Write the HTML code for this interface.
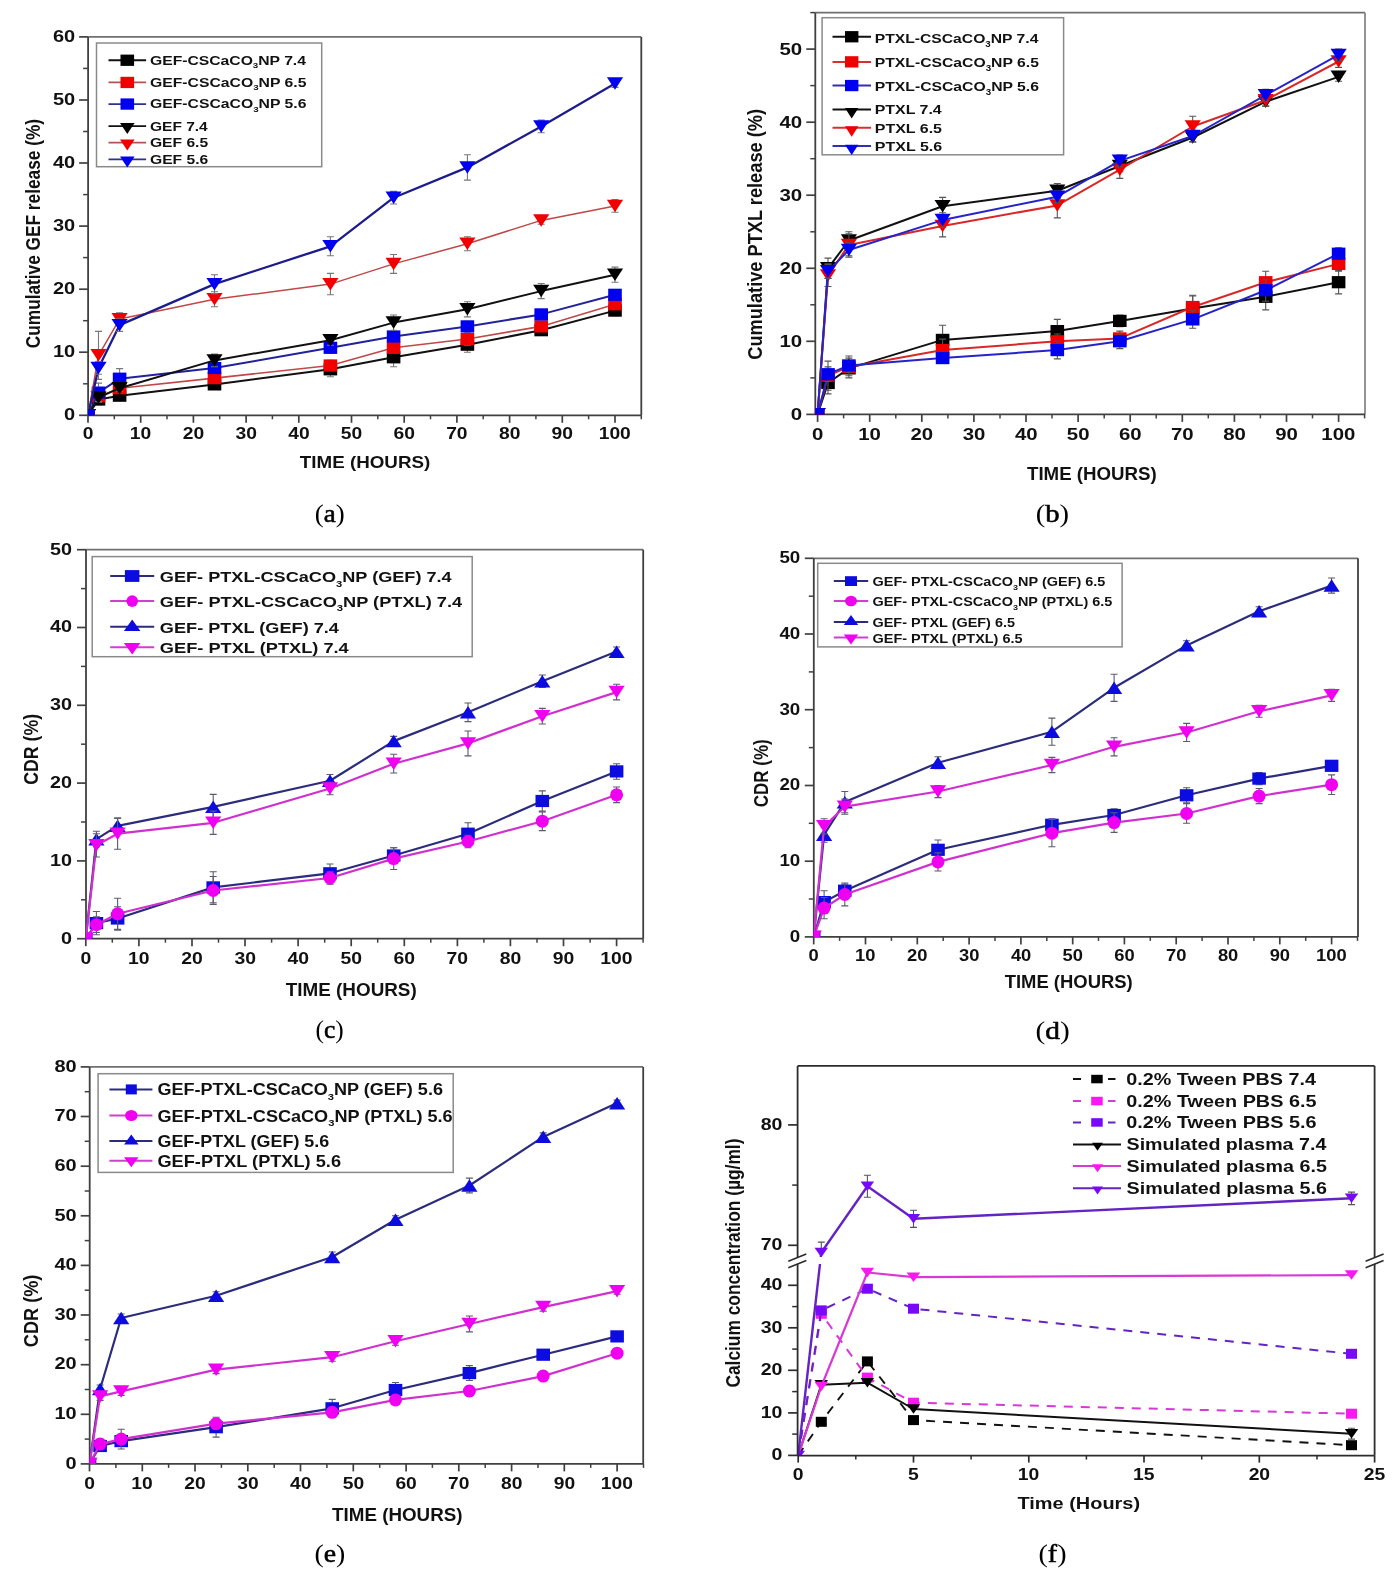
<!DOCTYPE html>
<html><head><meta charset="utf-8"><style>
html,body{margin:0;padding:0;background:#fff;}
svg{display:block;filter:blur(0.5px);}
</style></head><body>
<svg width="1398" height="1584" viewBox="0 0 1398 1584">
<rect width="1398" height="1584" fill="#fff"/>
<line x1="88.1" y1="36.9" x2="641.3" y2="36.9" stroke="#707070" stroke-width="1.8"/>
<line x1="641.3" y1="36.9" x2="641.3" y2="415.3" stroke="#404040" stroke-width="1.8"/>
<line x1="88.1" y1="36.9" x2="88.1" y2="415.3" stroke="#404040" stroke-width="1.8"/>
<line x1="88.1" y1="415.3" x2="641.3" y2="415.3" stroke="#404040" stroke-width="1.8"/>
<line x1="79.1" y1="415.3" x2="88.1" y2="415.3" stroke="#404040" stroke-width="1.7"/>
<text transform="translate(64.00,420.28) scale(1.1900,1)" font-size="16.80" font-weight="bold" font-family="Liberation Sans, sans-serif" fill="#111">0</text>
<line x1="79.1" y1="352.2" x2="88.1" y2="352.2" stroke="#404040" stroke-width="1.7"/>
<text transform="translate(52.89,357.21) scale(1.1900,1)" font-size="16.80" font-weight="bold" font-family="Liberation Sans, sans-serif" fill="#111">10</text>
<line x1="79.1" y1="289.2" x2="88.1" y2="289.2" stroke="#404040" stroke-width="1.7"/>
<text transform="translate(52.89,294.15) scale(1.1900,1)" font-size="16.80" font-weight="bold" font-family="Liberation Sans, sans-serif" fill="#111">20</text>
<line x1="79.1" y1="226.1" x2="88.1" y2="226.1" stroke="#404040" stroke-width="1.7"/>
<text transform="translate(52.89,231.07) scale(1.1900,1)" font-size="16.80" font-weight="bold" font-family="Liberation Sans, sans-serif" fill="#111">30</text>
<line x1="79.1" y1="163.0" x2="88.1" y2="163.0" stroke="#404040" stroke-width="1.7"/>
<text transform="translate(52.89,168.01) scale(1.1900,1)" font-size="16.80" font-weight="bold" font-family="Liberation Sans, sans-serif" fill="#111">40</text>
<line x1="79.1" y1="100.0" x2="88.1" y2="100.0" stroke="#404040" stroke-width="1.7"/>
<text transform="translate(52.89,104.95) scale(1.1900,1)" font-size="16.80" font-weight="bold" font-family="Liberation Sans, sans-serif" fill="#111">50</text>
<line x1="79.1" y1="36.9" x2="88.1" y2="36.9" stroke="#404040" stroke-width="1.7"/>
<text transform="translate(52.89,41.88) scale(1.1900,1)" font-size="16.80" font-weight="bold" font-family="Liberation Sans, sans-serif" fill="#111">60</text>
<line x1="83.1" y1="383.8" x2="88.1" y2="383.8" stroke="#404040" stroke-width="1.5"/>
<line x1="83.1" y1="320.7" x2="88.1" y2="320.7" stroke="#404040" stroke-width="1.5"/>
<line x1="83.1" y1="257.6" x2="88.1" y2="257.6" stroke="#404040" stroke-width="1.5"/>
<line x1="83.1" y1="194.6" x2="88.1" y2="194.6" stroke="#404040" stroke-width="1.5"/>
<line x1="83.1" y1="131.5" x2="88.1" y2="131.5" stroke="#404040" stroke-width="1.5"/>
<line x1="83.1" y1="68.4" x2="88.1" y2="68.4" stroke="#404040" stroke-width="1.5"/>
<line x1="88.0" y1="415.3" x2="88.0" y2="422.8" stroke="#404040" stroke-width="1.7"/>
<text transform="translate(82.65,439.42) scale(1.1200,1)" font-size="17.20" font-weight="bold" font-family="Liberation Sans, sans-serif" fill="#111">0</text>
<line x1="140.7" y1="415.3" x2="140.7" y2="422.8" stroke="#404040" stroke-width="1.7"/>
<text transform="translate(129.77,439.42) scale(1.1200,1)" font-size="17.20" font-weight="bold" font-family="Liberation Sans, sans-serif" fill="#111">10</text>
<line x1="193.4" y1="415.3" x2="193.4" y2="422.8" stroke="#404040" stroke-width="1.7"/>
<text transform="translate(182.74,439.42) scale(1.1200,1)" font-size="17.20" font-weight="bold" font-family="Liberation Sans, sans-serif" fill="#111">20</text>
<line x1="246.1" y1="415.3" x2="246.1" y2="422.8" stroke="#404040" stroke-width="1.7"/>
<text transform="translate(235.55,439.41) scale(1.1200,1)" font-size="17.20" font-weight="bold" font-family="Liberation Sans, sans-serif" fill="#111">30</text>
<line x1="298.8" y1="415.3" x2="298.8" y2="422.8" stroke="#404040" stroke-width="1.7"/>
<text transform="translate(288.32,439.42) scale(1.1200,1)" font-size="17.20" font-weight="bold" font-family="Liberation Sans, sans-serif" fill="#111">40</text>
<line x1="351.5" y1="415.3" x2="351.5" y2="422.8" stroke="#404040" stroke-width="1.7"/>
<text transform="translate(340.86,439.42) scale(1.1200,1)" font-size="17.20" font-weight="bold" font-family="Liberation Sans, sans-serif" fill="#111">50</text>
<line x1="404.2" y1="415.3" x2="404.2" y2="422.8" stroke="#404040" stroke-width="1.7"/>
<text transform="translate(393.50,439.42) scale(1.1200,1)" font-size="17.20" font-weight="bold" font-family="Liberation Sans, sans-serif" fill="#111">60</text>
<line x1="456.9" y1="415.3" x2="456.9" y2="422.8" stroke="#404040" stroke-width="1.7"/>
<text transform="translate(446.13,439.42) scale(1.1200,1)" font-size="17.20" font-weight="bold" font-family="Liberation Sans, sans-serif" fill="#111">70</text>
<line x1="509.6" y1="415.3" x2="509.6" y2="422.8" stroke="#404040" stroke-width="1.7"/>
<text transform="translate(498.94,439.42) scale(1.1200,1)" font-size="17.20" font-weight="bold" font-family="Liberation Sans, sans-serif" fill="#111">80</text>
<line x1="562.3" y1="415.3" x2="562.3" y2="422.8" stroke="#404040" stroke-width="1.7"/>
<text transform="translate(551.60,439.42) scale(1.1200,1)" font-size="17.20" font-weight="bold" font-family="Liberation Sans, sans-serif" fill="#111">90</text>
<line x1="615.0" y1="415.3" x2="615.0" y2="422.8" stroke="#404040" stroke-width="1.7"/>
<text transform="translate(598.67,439.42) scale(1.1200,1)" font-size="17.20" font-weight="bold" font-family="Liberation Sans, sans-serif" fill="#111">100</text>
<line x1="114.3" y1="415.3" x2="114.3" y2="419.3" stroke="#404040" stroke-width="1.5"/>
<line x1="167.0" y1="415.3" x2="167.0" y2="419.3" stroke="#404040" stroke-width="1.5"/>
<line x1="219.7" y1="415.3" x2="219.7" y2="419.3" stroke="#404040" stroke-width="1.5"/>
<line x1="272.4" y1="415.3" x2="272.4" y2="419.3" stroke="#404040" stroke-width="1.5"/>
<line x1="325.1" y1="415.3" x2="325.1" y2="419.3" stroke="#404040" stroke-width="1.5"/>
<line x1="377.8" y1="415.3" x2="377.8" y2="419.3" stroke="#404040" stroke-width="1.5"/>
<line x1="430.5" y1="415.3" x2="430.5" y2="419.3" stroke="#404040" stroke-width="1.5"/>
<line x1="483.2" y1="415.3" x2="483.2" y2="419.3" stroke="#404040" stroke-width="1.5"/>
<line x1="535.9" y1="415.3" x2="535.9" y2="419.3" stroke="#404040" stroke-width="1.5"/>
<line x1="588.6" y1="415.3" x2="588.6" y2="419.3" stroke="#404040" stroke-width="1.5"/>
<line x1="641.3" y1="415.3" x2="641.3" y2="419.3" stroke="#404040" stroke-width="1.5"/>
<text transform="translate(39.60,348.21) rotate(-90) scale(1.0158,1.1765)" font-size="17.00" font-weight="bold" font-family="Liberation Sans, sans-serif" fill="#111">Cumulative GEF release (%)</text>
<text transform="translate(299.79,468.10) scale(1.1150,1.0000)" font-size="16.86" font-weight="bold" font-family="Liberation Sans, sans-serif" fill="#111">TIME (HOURS)</text>
<text transform="translate(314.82,521.80) scale(1.0763,1)" font-size="25.00" font-family="Liberation Serif, serif" fill="#000">(<tspan stroke="#000" stroke-width="0.55">a</tspan>)</text>
<clipPath id="clip1"><rect x="88.1" y="36.9" width="553.2" height="378.4"/></clipPath>
<g clip-path="url(#clip1)">
<polyline points="88.0,415.3 98.5,399.5 119.6,395.7 214.5,384.4 330.4,369.3 393.6,357.3 467.4,344.7 541.2,330.2 615.0,310.6" fill="none" stroke="#111" stroke-width="2.0" stroke-linejoin="round"/>
<rect x="81.2" y="409.2" width="13.6" height="12.2" fill="#000000"/>
<line x1="98.5" y1="394.5" x2="98.5" y2="404.6" stroke="#777" stroke-width="1.1"/>
<line x1="95.0" y1="394.5" x2="102.0" y2="394.5" stroke="#777" stroke-width="1.1"/>
<line x1="95.0" y1="404.6" x2="102.0" y2="404.6" stroke="#777" stroke-width="1.1"/>
<rect x="91.7" y="393.4" width="13.6" height="12.2" fill="#000000"/>
<line x1="119.6" y1="392.0" x2="119.6" y2="399.5" stroke="#777" stroke-width="1.1"/>
<line x1="116.1" y1="392.0" x2="123.1" y2="392.0" stroke="#777" stroke-width="1.1"/>
<line x1="116.1" y1="399.5" x2="123.1" y2="399.5" stroke="#777" stroke-width="1.1"/>
<rect x="112.8" y="389.6" width="13.6" height="12.2" fill="#000000"/>
<line x1="214.5" y1="381.2" x2="214.5" y2="387.6" stroke="#777" stroke-width="1.1"/>
<line x1="211.0" y1="381.2" x2="218.0" y2="381.2" stroke="#777" stroke-width="1.1"/>
<line x1="211.0" y1="387.6" x2="218.0" y2="387.6" stroke="#777" stroke-width="1.1"/>
<rect x="207.7" y="378.3" width="13.6" height="12.2" fill="#000000"/>
<line x1="330.4" y1="361.7" x2="330.4" y2="376.8" stroke="#777" stroke-width="1.1"/>
<line x1="326.9" y1="361.7" x2="333.9" y2="361.7" stroke="#777" stroke-width="1.1"/>
<line x1="326.9" y1="376.8" x2="333.9" y2="376.8" stroke="#777" stroke-width="1.1"/>
<rect x="323.6" y="363.2" width="13.6" height="12.2" fill="#000000"/>
<line x1="393.6" y1="347.8" x2="393.6" y2="366.7" stroke="#777" stroke-width="1.1"/>
<line x1="390.1" y1="347.8" x2="397.1" y2="347.8" stroke="#777" stroke-width="1.1"/>
<line x1="390.1" y1="366.7" x2="397.1" y2="366.7" stroke="#777" stroke-width="1.1"/>
<rect x="386.8" y="351.2" width="13.6" height="12.2" fill="#000000"/>
<line x1="467.4" y1="337.1" x2="467.4" y2="352.2" stroke="#777" stroke-width="1.1"/>
<line x1="463.9" y1="337.1" x2="470.9" y2="337.1" stroke="#777" stroke-width="1.1"/>
<line x1="463.9" y1="352.2" x2="470.9" y2="352.2" stroke="#777" stroke-width="1.1"/>
<rect x="460.6" y="338.6" width="13.6" height="12.2" fill="#000000"/>
<line x1="541.2" y1="325.1" x2="541.2" y2="335.2" stroke="#777" stroke-width="1.1"/>
<line x1="537.7" y1="325.1" x2="544.7" y2="325.1" stroke="#777" stroke-width="1.1"/>
<line x1="537.7" y1="335.2" x2="544.7" y2="335.2" stroke="#777" stroke-width="1.1"/>
<rect x="534.4" y="324.1" width="13.6" height="12.2" fill="#000000"/>
<line x1="615.0" y1="305.6" x2="615.0" y2="315.7" stroke="#777" stroke-width="1.1"/>
<line x1="611.5" y1="305.6" x2="618.5" y2="305.6" stroke="#777" stroke-width="1.1"/>
<line x1="611.5" y1="315.7" x2="618.5" y2="315.7" stroke="#777" stroke-width="1.1"/>
<rect x="608.2" y="304.5" width="13.6" height="12.2" fill="#000000"/>
<polyline points="88.0,415.3 98.5,396.4 119.6,388.2 214.5,378.1 330.4,365.5 393.6,347.8 467.4,339.0 541.2,326.4 615.0,304.3" fill="none" stroke="#c04848" stroke-width="1.6" stroke-linejoin="round"/>
<rect x="81.2" y="409.2" width="13.6" height="12.2" fill="#f00000"/>
<line x1="98.5" y1="391.3" x2="98.5" y2="401.4" stroke="#777" stroke-width="1.1"/>
<line x1="95.0" y1="391.3" x2="102.0" y2="391.3" stroke="#777" stroke-width="1.1"/>
<line x1="95.0" y1="401.4" x2="102.0" y2="401.4" stroke="#777" stroke-width="1.1"/>
<rect x="91.7" y="390.3" width="13.6" height="12.2" fill="#f00000"/>
<line x1="119.6" y1="384.4" x2="119.6" y2="392.0" stroke="#777" stroke-width="1.1"/>
<line x1="116.1" y1="384.4" x2="123.1" y2="384.4" stroke="#777" stroke-width="1.1"/>
<line x1="116.1" y1="392.0" x2="123.1" y2="392.0" stroke="#777" stroke-width="1.1"/>
<rect x="112.8" y="382.1" width="13.6" height="12.2" fill="#f00000"/>
<line x1="214.5" y1="374.9" x2="214.5" y2="381.2" stroke="#777" stroke-width="1.1"/>
<line x1="211.0" y1="374.9" x2="218.0" y2="374.9" stroke="#777" stroke-width="1.1"/>
<line x1="211.0" y1="381.2" x2="218.0" y2="381.2" stroke="#777" stroke-width="1.1"/>
<rect x="207.7" y="372.0" width="13.6" height="12.2" fill="#f00000"/>
<line x1="330.4" y1="360.4" x2="330.4" y2="370.5" stroke="#777" stroke-width="1.1"/>
<line x1="326.9" y1="360.4" x2="333.9" y2="360.4" stroke="#777" stroke-width="1.1"/>
<line x1="326.9" y1="370.5" x2="333.9" y2="370.5" stroke="#777" stroke-width="1.1"/>
<rect x="323.6" y="359.4" width="13.6" height="12.2" fill="#f00000"/>
<line x1="393.6" y1="342.8" x2="393.6" y2="352.9" stroke="#777" stroke-width="1.1"/>
<line x1="390.1" y1="342.8" x2="397.1" y2="342.8" stroke="#777" stroke-width="1.1"/>
<line x1="390.1" y1="352.9" x2="397.1" y2="352.9" stroke="#777" stroke-width="1.1"/>
<rect x="386.8" y="341.7" width="13.6" height="12.2" fill="#f00000"/>
<line x1="467.4" y1="332.7" x2="467.4" y2="345.3" stroke="#777" stroke-width="1.1"/>
<line x1="463.9" y1="332.7" x2="470.9" y2="332.7" stroke="#777" stroke-width="1.1"/>
<line x1="463.9" y1="345.3" x2="470.9" y2="345.3" stroke="#777" stroke-width="1.1"/>
<rect x="460.6" y="332.9" width="13.6" height="12.2" fill="#f00000"/>
<line x1="541.2" y1="321.3" x2="541.2" y2="331.4" stroke="#777" stroke-width="1.1"/>
<line x1="537.7" y1="321.3" x2="544.7" y2="321.3" stroke="#777" stroke-width="1.1"/>
<line x1="537.7" y1="331.4" x2="544.7" y2="331.4" stroke="#777" stroke-width="1.1"/>
<rect x="534.4" y="320.3" width="13.6" height="12.2" fill="#f00000"/>
<line x1="615.0" y1="299.3" x2="615.0" y2="309.3" stroke="#777" stroke-width="1.1"/>
<line x1="611.5" y1="299.3" x2="618.5" y2="299.3" stroke="#777" stroke-width="1.1"/>
<line x1="611.5" y1="309.3" x2="618.5" y2="309.3" stroke="#777" stroke-width="1.1"/>
<rect x="608.2" y="298.2" width="13.6" height="12.2" fill="#f00000"/>
<polyline points="88.0,415.3 98.5,392.6 119.6,378.7 214.5,368.0 330.4,347.8 393.6,336.5 467.4,326.4 541.2,314.4 615.0,294.8" fill="none" stroke="#22229a" stroke-width="2.0" stroke-linejoin="round"/>
<rect x="81.2" y="409.2" width="13.6" height="12.2" fill="#0000f0"/>
<line x1="98.5" y1="383.1" x2="98.5" y2="402.1" stroke="#777" stroke-width="1.1"/>
<line x1="95.0" y1="383.1" x2="102.0" y2="383.1" stroke="#777" stroke-width="1.1"/>
<line x1="95.0" y1="402.1" x2="102.0" y2="402.1" stroke="#777" stroke-width="1.1"/>
<rect x="91.7" y="386.5" width="13.6" height="12.2" fill="#0000f0"/>
<line x1="119.6" y1="368.6" x2="119.6" y2="388.8" stroke="#777" stroke-width="1.1"/>
<line x1="116.1" y1="368.6" x2="123.1" y2="368.6" stroke="#777" stroke-width="1.1"/>
<line x1="116.1" y1="388.8" x2="123.1" y2="388.8" stroke="#777" stroke-width="1.1"/>
<rect x="112.8" y="372.6" width="13.6" height="12.2" fill="#0000f0"/>
<line x1="214.5" y1="364.2" x2="214.5" y2="371.8" stroke="#777" stroke-width="1.1"/>
<line x1="211.0" y1="364.2" x2="218.0" y2="364.2" stroke="#777" stroke-width="1.1"/>
<line x1="211.0" y1="371.8" x2="218.0" y2="371.8" stroke="#777" stroke-width="1.1"/>
<rect x="207.7" y="361.9" width="13.6" height="12.2" fill="#0000f0"/>
<line x1="330.4" y1="342.8" x2="330.4" y2="352.9" stroke="#777" stroke-width="1.1"/>
<line x1="326.9" y1="342.8" x2="333.9" y2="342.8" stroke="#777" stroke-width="1.1"/>
<line x1="326.9" y1="352.9" x2="333.9" y2="352.9" stroke="#777" stroke-width="1.1"/>
<rect x="323.6" y="341.7" width="13.6" height="12.2" fill="#0000f0"/>
<line x1="393.6" y1="331.4" x2="393.6" y2="341.5" stroke="#777" stroke-width="1.1"/>
<line x1="390.1" y1="331.4" x2="397.1" y2="331.4" stroke="#777" stroke-width="1.1"/>
<line x1="390.1" y1="341.5" x2="397.1" y2="341.5" stroke="#777" stroke-width="1.1"/>
<rect x="386.8" y="330.4" width="13.6" height="12.2" fill="#0000f0"/>
<line x1="467.4" y1="321.3" x2="467.4" y2="331.4" stroke="#777" stroke-width="1.1"/>
<line x1="463.9" y1="321.3" x2="470.9" y2="321.3" stroke="#777" stroke-width="1.1"/>
<line x1="463.9" y1="331.4" x2="470.9" y2="331.4" stroke="#777" stroke-width="1.1"/>
<rect x="460.6" y="320.3" width="13.6" height="12.2" fill="#0000f0"/>
<line x1="541.2" y1="310.6" x2="541.2" y2="318.2" stroke="#777" stroke-width="1.1"/>
<line x1="537.7" y1="310.6" x2="544.7" y2="310.6" stroke="#777" stroke-width="1.1"/>
<line x1="537.7" y1="318.2" x2="544.7" y2="318.2" stroke="#777" stroke-width="1.1"/>
<rect x="534.4" y="308.3" width="13.6" height="12.2" fill="#0000f0"/>
<line x1="615.0" y1="291.1" x2="615.0" y2="298.6" stroke="#777" stroke-width="1.1"/>
<line x1="611.5" y1="291.1" x2="618.5" y2="291.1" stroke="#777" stroke-width="1.1"/>
<line x1="611.5" y1="298.6" x2="618.5" y2="298.6" stroke="#777" stroke-width="1.1"/>
<rect x="608.2" y="288.7" width="13.6" height="12.2" fill="#0000f0"/>
<polyline points="88.0,415.3 98.5,397.6 119.6,388.2 214.5,360.4 330.4,340.3 393.6,322.6 467.4,309.3 541.2,291.1 615.0,274.7" fill="none" stroke="#111" stroke-width="2.0" stroke-linejoin="round"/>
<polygon points="79.9,409.1 96.1,409.1 88.0,421.6" fill="#000000"/>
<line x1="98.5" y1="393.9" x2="98.5" y2="401.4" stroke="#777" stroke-width="1.1"/>
<line x1="95.0" y1="393.9" x2="102.0" y2="393.9" stroke="#777" stroke-width="1.1"/>
<line x1="95.0" y1="401.4" x2="102.0" y2="401.4" stroke="#777" stroke-width="1.1"/>
<polygon points="90.4,391.4 106.6,391.4 98.5,403.9" fill="#000000"/>
<line x1="119.6" y1="385.0" x2="119.6" y2="391.3" stroke="#777" stroke-width="1.1"/>
<line x1="116.1" y1="385.0" x2="123.1" y2="385.0" stroke="#777" stroke-width="1.1"/>
<line x1="116.1" y1="391.3" x2="123.1" y2="391.3" stroke="#777" stroke-width="1.1"/>
<polygon points="111.5,381.9 127.7,381.9 119.6,394.4" fill="#000000"/>
<line x1="214.5" y1="354.1" x2="214.5" y2="366.7" stroke="#777" stroke-width="1.1"/>
<line x1="211.0" y1="354.1" x2="218.0" y2="354.1" stroke="#777" stroke-width="1.1"/>
<line x1="211.0" y1="366.7" x2="218.0" y2="366.7" stroke="#777" stroke-width="1.1"/>
<polygon points="206.4,354.2 222.6,354.2 214.5,366.7" fill="#000000"/>
<line x1="330.4" y1="335.2" x2="330.4" y2="345.3" stroke="#777" stroke-width="1.1"/>
<line x1="326.9" y1="335.2" x2="333.9" y2="335.2" stroke="#777" stroke-width="1.1"/>
<line x1="326.9" y1="345.3" x2="333.9" y2="345.3" stroke="#777" stroke-width="1.1"/>
<polygon points="322.3,334.0 338.5,334.0 330.4,346.5" fill="#000000"/>
<line x1="393.6" y1="315.0" x2="393.6" y2="330.2" stroke="#777" stroke-width="1.1"/>
<line x1="390.1" y1="315.0" x2="397.1" y2="315.0" stroke="#777" stroke-width="1.1"/>
<line x1="390.1" y1="330.2" x2="397.1" y2="330.2" stroke="#777" stroke-width="1.1"/>
<polygon points="385.5,316.3 401.7,316.3 393.6,328.8" fill="#000000"/>
<line x1="467.4" y1="301.8" x2="467.4" y2="316.9" stroke="#777" stroke-width="1.1"/>
<line x1="463.9" y1="301.8" x2="470.9" y2="301.8" stroke="#777" stroke-width="1.1"/>
<line x1="463.9" y1="316.9" x2="470.9" y2="316.9" stroke="#777" stroke-width="1.1"/>
<polygon points="459.3,303.1 475.5,303.1 467.4,315.6" fill="#000000"/>
<line x1="541.2" y1="283.5" x2="541.2" y2="298.6" stroke="#777" stroke-width="1.1"/>
<line x1="537.7" y1="283.5" x2="544.7" y2="283.5" stroke="#777" stroke-width="1.1"/>
<line x1="537.7" y1="298.6" x2="544.7" y2="298.6" stroke="#777" stroke-width="1.1"/>
<polygon points="533.1,284.8 549.3,284.8 541.2,297.3" fill="#000000"/>
<line x1="615.0" y1="267.1" x2="615.0" y2="282.2" stroke="#777" stroke-width="1.1"/>
<line x1="611.5" y1="267.1" x2="618.5" y2="267.1" stroke="#777" stroke-width="1.1"/>
<line x1="611.5" y1="282.2" x2="618.5" y2="282.2" stroke="#777" stroke-width="1.1"/>
<polygon points="606.9,268.4 623.1,268.4 615.0,280.9" fill="#000000"/>
<polyline points="88.0,415.3 98.5,355.4 119.6,319.1 214.5,299.3 330.4,284.1 393.6,263.9 467.4,243.8 541.2,220.4 615.0,205.9" fill="none" stroke="#c04848" stroke-width="1.5" stroke-linejoin="round"/>
<polygon points="79.9,409.1 96.1,409.1 88.0,421.6" fill="#f00000"/>
<line x1="98.5" y1="331.4" x2="98.5" y2="379.4" stroke="#777" stroke-width="1.1"/>
<line x1="95.0" y1="331.4" x2="102.0" y2="331.4" stroke="#777" stroke-width="1.1"/>
<line x1="95.0" y1="379.4" x2="102.0" y2="379.4" stroke="#777" stroke-width="1.1"/>
<polygon points="90.4,349.1 106.6,349.1 98.5,361.6" fill="#f00000"/>
<line x1="119.6" y1="312.8" x2="119.6" y2="325.4" stroke="#777" stroke-width="1.1"/>
<line x1="116.1" y1="312.8" x2="123.1" y2="312.8" stroke="#777" stroke-width="1.1"/>
<line x1="116.1" y1="325.4" x2="123.1" y2="325.4" stroke="#777" stroke-width="1.1"/>
<polygon points="111.5,312.9 127.7,312.9 119.6,325.4" fill="#f00000"/>
<line x1="214.5" y1="291.7" x2="214.5" y2="306.8" stroke="#777" stroke-width="1.1"/>
<line x1="211.0" y1="291.7" x2="218.0" y2="291.7" stroke="#777" stroke-width="1.1"/>
<line x1="211.0" y1="306.8" x2="218.0" y2="306.8" stroke="#777" stroke-width="1.1"/>
<polygon points="206.4,293.0 222.6,293.0 214.5,305.5" fill="#f00000"/>
<line x1="330.4" y1="273.4" x2="330.4" y2="294.8" stroke="#777" stroke-width="1.1"/>
<line x1="326.9" y1="273.4" x2="333.9" y2="273.4" stroke="#777" stroke-width="1.1"/>
<line x1="326.9" y1="294.8" x2="333.9" y2="294.8" stroke="#777" stroke-width="1.1"/>
<polygon points="322.3,277.9 338.5,277.9 330.4,290.4" fill="#f00000"/>
<line x1="393.6" y1="254.5" x2="393.6" y2="273.4" stroke="#777" stroke-width="1.1"/>
<line x1="390.1" y1="254.5" x2="397.1" y2="254.5" stroke="#777" stroke-width="1.1"/>
<line x1="390.1" y1="273.4" x2="397.1" y2="273.4" stroke="#777" stroke-width="1.1"/>
<polygon points="385.5,257.7 401.7,257.7 393.6,270.2" fill="#f00000"/>
<line x1="467.4" y1="236.8" x2="467.4" y2="250.7" stroke="#777" stroke-width="1.1"/>
<line x1="463.9" y1="236.8" x2="470.9" y2="236.8" stroke="#777" stroke-width="1.1"/>
<line x1="463.9" y1="250.7" x2="470.9" y2="250.7" stroke="#777" stroke-width="1.1"/>
<polygon points="459.3,237.5 475.5,237.5 467.4,250.0" fill="#f00000"/>
<line x1="541.2" y1="216.6" x2="541.2" y2="224.2" stroke="#777" stroke-width="1.1"/>
<line x1="537.7" y1="216.6" x2="544.7" y2="216.6" stroke="#777" stroke-width="1.1"/>
<line x1="537.7" y1="224.2" x2="544.7" y2="224.2" stroke="#777" stroke-width="1.1"/>
<polygon points="533.1,214.2 549.3,214.2 541.2,226.7" fill="#f00000"/>
<line x1="615.0" y1="199.6" x2="615.0" y2="212.2" stroke="#777" stroke-width="1.1"/>
<line x1="611.5" y1="199.6" x2="618.5" y2="199.6" stroke="#777" stroke-width="1.1"/>
<line x1="611.5" y1="212.2" x2="618.5" y2="212.2" stroke="#777" stroke-width="1.1"/>
<polygon points="606.9,199.7 623.1,199.7 615.0,212.2" fill="#f00000"/>
<polyline points="88.0,415.3 98.5,368.0 119.6,325.1 214.5,284.1 330.4,246.3 393.6,197.7 467.4,167.4 541.2,126.5 615.0,83.6" fill="none" stroke="#1c1c8c" stroke-width="2.3" stroke-linejoin="round"/>
<polygon points="79.9,409.1 96.1,409.1 88.0,421.6" fill="#0000f0"/>
<line x1="98.5" y1="361.7" x2="98.5" y2="374.3" stroke="#777" stroke-width="1.1"/>
<line x1="95.0" y1="361.7" x2="102.0" y2="361.7" stroke="#777" stroke-width="1.1"/>
<line x1="95.0" y1="374.3" x2="102.0" y2="374.3" stroke="#777" stroke-width="1.1"/>
<polygon points="90.4,361.8 106.6,361.8 98.5,374.2" fill="#0000f0"/>
<line x1="119.6" y1="318.8" x2="119.6" y2="331.4" stroke="#777" stroke-width="1.1"/>
<line x1="116.1" y1="318.8" x2="123.1" y2="318.8" stroke="#777" stroke-width="1.1"/>
<line x1="116.1" y1="331.4" x2="123.1" y2="331.4" stroke="#777" stroke-width="1.1"/>
<polygon points="111.5,318.9 127.7,318.9 119.6,331.4" fill="#0000f0"/>
<line x1="214.5" y1="274.7" x2="214.5" y2="293.6" stroke="#777" stroke-width="1.1"/>
<line x1="211.0" y1="274.7" x2="218.0" y2="274.7" stroke="#777" stroke-width="1.1"/>
<line x1="211.0" y1="293.6" x2="218.0" y2="293.6" stroke="#777" stroke-width="1.1"/>
<polygon points="206.4,277.9 222.6,277.9 214.5,290.4" fill="#0000f0"/>
<line x1="330.4" y1="236.8" x2="330.4" y2="255.7" stroke="#777" stroke-width="1.1"/>
<line x1="326.9" y1="236.8" x2="333.9" y2="236.8" stroke="#777" stroke-width="1.1"/>
<line x1="326.9" y1="255.7" x2="333.9" y2="255.7" stroke="#777" stroke-width="1.1"/>
<polygon points="322.3,240.0 338.5,240.0 330.4,252.5" fill="#0000f0"/>
<line x1="393.6" y1="191.4" x2="393.6" y2="204.0" stroke="#777" stroke-width="1.1"/>
<line x1="390.1" y1="191.4" x2="397.1" y2="191.4" stroke="#777" stroke-width="1.1"/>
<line x1="390.1" y1="204.0" x2="397.1" y2="204.0" stroke="#777" stroke-width="1.1"/>
<polygon points="385.5,191.5 401.7,191.5 393.6,204.0" fill="#0000f0"/>
<line x1="467.4" y1="154.8" x2="467.4" y2="180.1" stroke="#777" stroke-width="1.1"/>
<line x1="463.9" y1="154.8" x2="470.9" y2="154.8" stroke="#777" stroke-width="1.1"/>
<line x1="463.9" y1="180.1" x2="470.9" y2="180.1" stroke="#777" stroke-width="1.1"/>
<polygon points="459.3,161.2 475.5,161.2 467.4,173.7" fill="#0000f0"/>
<line x1="541.2" y1="120.1" x2="541.2" y2="132.8" stroke="#777" stroke-width="1.1"/>
<line x1="537.7" y1="120.1" x2="544.7" y2="120.1" stroke="#777" stroke-width="1.1"/>
<line x1="537.7" y1="132.8" x2="544.7" y2="132.8" stroke="#777" stroke-width="1.1"/>
<polygon points="533.1,120.2 549.3,120.2 541.2,132.7" fill="#0000f0"/>
<line x1="615.0" y1="79.8" x2="615.0" y2="87.4" stroke="#777" stroke-width="1.1"/>
<line x1="611.5" y1="79.8" x2="618.5" y2="79.8" stroke="#777" stroke-width="1.1"/>
<line x1="611.5" y1="87.4" x2="618.5" y2="87.4" stroke="#777" stroke-width="1.1"/>
<polygon points="606.9,77.3 623.1,77.3 615.0,89.8" fill="#0000f0"/>
</g>
<rect x="96.5" y="43.0" width="225.2" height="123.7" fill="none" stroke="#8a8a8a" stroke-width="1.5"/>
<line x1="108.5" y1="60.3" x2="146.1" y2="60.3" stroke="#111" stroke-width="1.9"/>
<rect x="120.5" y="54.6" width="13.6" height="11.3" fill="#000000"/>
<text transform="translate(149.96,64.50) scale(1.2142,1.0000)" font-size="12.94" font-weight="bold" font-family="Liberation Sans, sans-serif" fill="#111">GEF-CSCaCO<tspan font-size="8.02" dy="3.88">3</tspan><tspan dy="-3.88">NP 7.4</tspan></text>
<line x1="108.5" y1="82.4" x2="146.1" y2="82.4" stroke="#b85050" stroke-width="1.9"/>
<rect x="120.5" y="76.8" width="13.6" height="11.3" fill="#f00000"/>
<text transform="translate(149.95,86.60) scale(1.2170,1.0000)" font-size="12.94" font-weight="bold" font-family="Liberation Sans, sans-serif" fill="#111">GEF-CSCaCO<tspan font-size="8.02" dy="3.88">3</tspan><tspan dy="-3.88">NP 6.5</tspan></text>
<line x1="108.5" y1="104.1" x2="146.1" y2="104.1" stroke="#303090" stroke-width="1.9"/>
<rect x="120.5" y="98.4" width="13.6" height="11.3" fill="#0000f0"/>
<text transform="translate(149.95,108.30) scale(1.2180,1.0000)" font-size="12.94" font-weight="bold" font-family="Liberation Sans, sans-serif" fill="#111">GEF-CSCaCO<tspan font-size="8.02" dy="3.88">3</tspan><tspan dy="-3.88">NP 5.6</tspan></text>
<line x1="108.5" y1="126.1" x2="146.1" y2="126.1" stroke="#111" stroke-width="1.9"/>
<polygon points="120.0,123.1 134.6,123.1 127.3,134.1" fill="#000000"/>
<text transform="translate(149.96,130.80) scale(1.2004,1.0000)" font-size="12.94" font-weight="bold" font-family="Liberation Sans, sans-serif" fill="#111">GEF 7.4</text>
<line x1="108.5" y1="142.6" x2="146.1" y2="142.6" stroke="#b85050" stroke-width="1.9"/>
<polygon points="120.0,139.6 134.6,139.6 127.3,150.6" fill="#f00000"/>
<text transform="translate(149.96,147.30) scale(1.2080,1.0000)" font-size="12.94" font-weight="bold" font-family="Liberation Sans, sans-serif" fill="#111">GEF 6.5</text>
<line x1="108.5" y1="159.4" x2="146.1" y2="159.4" stroke="#303090" stroke-width="1.9"/>
<polygon points="120.0,156.4 134.6,156.4 127.3,167.4" fill="#0000f0"/>
<text transform="translate(149.96,163.60) scale(1.2106,1.0000)" font-size="12.94" font-weight="bold" font-family="Liberation Sans, sans-serif" fill="#111">GEF 5.6</text>
<line x1="815.3" y1="12.7" x2="1365.0" y2="12.7" stroke="#707070" stroke-width="1.8"/>
<line x1="1365.0" y1="12.7" x2="1365.0" y2="414.4" stroke="#888888" stroke-width="1.8"/>
<line x1="815.3" y1="12.7" x2="815.3" y2="414.4" stroke="#404040" stroke-width="1.8"/>
<line x1="815.3" y1="414.4" x2="1365.0" y2="414.4" stroke="#404040" stroke-width="1.8"/>
<line x1="806.3" y1="414.4" x2="815.3" y2="414.4" stroke="#404040" stroke-width="1.7"/>
<text transform="translate(790.76,420.32) scale(1.1900,1)" font-size="17.20" font-weight="bold" font-family="Liberation Sans, sans-serif" fill="#111">0</text>
<line x1="806.3" y1="341.3" x2="815.3" y2="341.3" stroke="#404040" stroke-width="1.7"/>
<text transform="translate(779.38,347.26) scale(1.1900,1)" font-size="17.20" font-weight="bold" font-family="Liberation Sans, sans-serif" fill="#111">10</text>
<line x1="806.3" y1="268.3" x2="815.3" y2="268.3" stroke="#404040" stroke-width="1.7"/>
<text transform="translate(779.38,274.20) scale(1.1900,1)" font-size="17.20" font-weight="bold" font-family="Liberation Sans, sans-serif" fill="#111">20</text>
<line x1="806.3" y1="195.2" x2="815.3" y2="195.2" stroke="#404040" stroke-width="1.7"/>
<text transform="translate(779.38,201.13) scale(1.1900,1)" font-size="17.20" font-weight="bold" font-family="Liberation Sans, sans-serif" fill="#111">30</text>
<line x1="806.3" y1="122.2" x2="815.3" y2="122.2" stroke="#404040" stroke-width="1.7"/>
<text transform="translate(779.38,128.08) scale(1.1900,1)" font-size="17.20" font-weight="bold" font-family="Liberation Sans, sans-serif" fill="#111">40</text>
<line x1="806.3" y1="49.1" x2="815.3" y2="49.1" stroke="#404040" stroke-width="1.7"/>
<text transform="translate(779.38,55.02) scale(1.1900,1)" font-size="17.20" font-weight="bold" font-family="Liberation Sans, sans-serif" fill="#111">50</text>
<line x1="810.3" y1="377.9" x2="815.3" y2="377.9" stroke="#404040" stroke-width="1.5"/>
<line x1="810.3" y1="304.8" x2="815.3" y2="304.8" stroke="#404040" stroke-width="1.5"/>
<line x1="810.3" y1="231.8" x2="815.3" y2="231.8" stroke="#404040" stroke-width="1.5"/>
<line x1="810.3" y1="158.7" x2="815.3" y2="158.7" stroke="#404040" stroke-width="1.5"/>
<line x1="810.3" y1="85.6" x2="815.3" y2="85.6" stroke="#404040" stroke-width="1.5"/>
<line x1="810.3" y1="12.6" x2="815.3" y2="12.6" stroke="#404040" stroke-width="1.5"/>
<line x1="817.6" y1="414.4" x2="817.6" y2="421.9" stroke="#404040" stroke-width="1.7"/>
<text transform="translate(811.94,440.45) scale(1.2000,1)" font-size="17.00" font-weight="bold" font-family="Liberation Sans, sans-serif" fill="#111">0</text>
<line x1="869.7" y1="414.4" x2="869.7" y2="421.9" stroke="#404040" stroke-width="1.7"/>
<text transform="translate(858.13,440.45) scale(1.2000,1)" font-size="17.00" font-weight="bold" font-family="Liberation Sans, sans-serif" fill="#111">10</text>
<line x1="921.8" y1="414.4" x2="921.8" y2="421.9" stroke="#404040" stroke-width="1.7"/>
<text transform="translate(910.52,440.45) scale(1.2000,1)" font-size="17.00" font-weight="bold" font-family="Liberation Sans, sans-serif" fill="#111">20</text>
<line x1="973.9" y1="414.4" x2="973.9" y2="421.9" stroke="#404040" stroke-width="1.7"/>
<text transform="translate(962.74,440.44) scale(1.2000,1)" font-size="17.00" font-weight="bold" font-family="Liberation Sans, sans-serif" fill="#111">30</text>
<line x1="1026.0" y1="414.4" x2="1026.0" y2="421.9" stroke="#404040" stroke-width="1.7"/>
<text transform="translate(1014.92,440.45) scale(1.2000,1)" font-size="17.00" font-weight="bold" font-family="Liberation Sans, sans-serif" fill="#111">40</text>
<line x1="1078.1" y1="414.4" x2="1078.1" y2="421.9" stroke="#404040" stroke-width="1.7"/>
<text transform="translate(1066.86,440.45) scale(1.2000,1)" font-size="17.00" font-weight="bold" font-family="Liberation Sans, sans-serif" fill="#111">50</text>
<line x1="1130.2" y1="414.4" x2="1130.2" y2="421.9" stroke="#404040" stroke-width="1.7"/>
<text transform="translate(1118.90,440.45) scale(1.2000,1)" font-size="17.00" font-weight="bold" font-family="Liberation Sans, sans-serif" fill="#111">60</text>
<line x1="1182.3" y1="414.4" x2="1182.3" y2="421.9" stroke="#404040" stroke-width="1.7"/>
<text transform="translate(1170.94,440.45) scale(1.2000,1)" font-size="17.00" font-weight="bold" font-family="Liberation Sans, sans-serif" fill="#111">70</text>
<line x1="1234.4" y1="414.4" x2="1234.4" y2="421.9" stroke="#404040" stroke-width="1.7"/>
<text transform="translate(1223.15,440.45) scale(1.2000,1)" font-size="17.00" font-weight="bold" font-family="Liberation Sans, sans-serif" fill="#111">80</text>
<line x1="1286.5" y1="414.4" x2="1286.5" y2="421.9" stroke="#404040" stroke-width="1.7"/>
<text transform="translate(1275.22,440.45) scale(1.2000,1)" font-size="17.00" font-weight="bold" font-family="Liberation Sans, sans-serif" fill="#111">90</text>
<line x1="1338.6" y1="414.4" x2="1338.6" y2="421.9" stroke="#404040" stroke-width="1.7"/>
<text transform="translate(1321.36,440.45) scale(1.2000,1)" font-size="17.00" font-weight="bold" font-family="Liberation Sans, sans-serif" fill="#111">100</text>
<line x1="843.6" y1="414.4" x2="843.6" y2="418.4" stroke="#404040" stroke-width="1.5"/>
<line x1="895.8" y1="414.4" x2="895.8" y2="418.4" stroke="#404040" stroke-width="1.5"/>
<line x1="947.9" y1="414.4" x2="947.9" y2="418.4" stroke="#404040" stroke-width="1.5"/>
<line x1="1000.0" y1="414.4" x2="1000.0" y2="418.4" stroke="#404040" stroke-width="1.5"/>
<line x1="1052.0" y1="414.4" x2="1052.0" y2="418.4" stroke="#404040" stroke-width="1.5"/>
<line x1="1104.2" y1="414.4" x2="1104.2" y2="418.4" stroke="#404040" stroke-width="1.5"/>
<line x1="1156.2" y1="414.4" x2="1156.2" y2="418.4" stroke="#404040" stroke-width="1.5"/>
<line x1="1208.3" y1="414.4" x2="1208.3" y2="418.4" stroke="#404040" stroke-width="1.5"/>
<line x1="1260.4" y1="414.4" x2="1260.4" y2="418.4" stroke="#404040" stroke-width="1.5"/>
<line x1="1312.5" y1="414.4" x2="1312.5" y2="418.4" stroke="#404040" stroke-width="1.5"/>
<line x1="1364.6" y1="414.4" x2="1364.6" y2="418.4" stroke="#404040" stroke-width="1.5"/>
<text transform="translate(762.00,359.75) rotate(-90) scale(1.0129,1.1111)" font-size="18.00" font-weight="bold" font-family="Liberation Sans, sans-serif" fill="#111">Cumulative PTXL release (%)</text>
<text transform="translate(1026.99,479.50) scale(1.0210,1.0000)" font-size="18.31" font-weight="bold" font-family="Liberation Sans, sans-serif" fill="#111">TIME (HOURS)</text>
<text transform="translate(1035.64,521.90) scale(1.1466,1)" font-size="25.00" font-family="Liberation Serif, serif" fill="#000">(<tspan stroke="#000" stroke-width="0.55">b</tspan>)</text>
<clipPath id="clip2"><rect x="815.3" y="12.7" width="549.7" height="401.7"/></clipPath>
<g clip-path="url(#clip2)">
<polyline points="817.6,414.4 828.0,383.0 848.9,368.4 942.6,339.9 1057.3,331.1 1119.8,320.9 1192.7,308.5 1265.7,296.8 1338.6,282.2" fill="none" stroke="#111" stroke-width="2.0" stroke-linejoin="round"/>
<rect x="810.8" y="408.3" width="13.6" height="12.2" fill="#000000"/>
<line x1="828.0" y1="372.0" x2="828.0" y2="393.9" stroke="#555" stroke-width="1.1"/>
<line x1="824.5" y1="372.0" x2="831.5" y2="372.0" stroke="#555" stroke-width="1.1"/>
<line x1="824.5" y1="393.9" x2="831.5" y2="393.9" stroke="#555" stroke-width="1.1"/>
<rect x="821.2" y="376.9" width="13.6" height="12.2" fill="#000000"/>
<line x1="848.9" y1="361.1" x2="848.9" y2="375.7" stroke="#555" stroke-width="1.1"/>
<line x1="845.4" y1="361.1" x2="852.4" y2="361.1" stroke="#555" stroke-width="1.1"/>
<line x1="845.4" y1="375.7" x2="852.4" y2="375.7" stroke="#555" stroke-width="1.1"/>
<rect x="842.1" y="362.3" width="13.6" height="12.2" fill="#000000"/>
<line x1="942.6" y1="325.3" x2="942.6" y2="354.5" stroke="#555" stroke-width="1.1"/>
<line x1="939.1" y1="325.3" x2="946.1" y2="325.3" stroke="#555" stroke-width="1.1"/>
<line x1="939.1" y1="354.5" x2="946.1" y2="354.5" stroke="#555" stroke-width="1.1"/>
<rect x="935.8" y="333.8" width="13.6" height="12.2" fill="#000000"/>
<line x1="1057.3" y1="319.4" x2="1057.3" y2="342.8" stroke="#555" stroke-width="1.1"/>
<line x1="1053.8" y1="319.4" x2="1060.8" y2="319.4" stroke="#555" stroke-width="1.1"/>
<line x1="1053.8" y1="342.8" x2="1060.8" y2="342.8" stroke="#555" stroke-width="1.1"/>
<rect x="1050.5" y="325.0" width="13.6" height="12.2" fill="#000000"/>
<line x1="1119.8" y1="315.0" x2="1119.8" y2="326.7" stroke="#555" stroke-width="1.1"/>
<line x1="1116.3" y1="315.0" x2="1123.3" y2="315.0" stroke="#555" stroke-width="1.1"/>
<line x1="1116.3" y1="326.7" x2="1123.3" y2="326.7" stroke="#555" stroke-width="1.1"/>
<rect x="1113.0" y="314.8" width="13.6" height="12.2" fill="#000000"/>
<line x1="1192.7" y1="295.3" x2="1192.7" y2="321.6" stroke="#555" stroke-width="1.1"/>
<line x1="1189.2" y1="295.3" x2="1196.2" y2="295.3" stroke="#555" stroke-width="1.1"/>
<line x1="1189.2" y1="321.6" x2="1196.2" y2="321.6" stroke="#555" stroke-width="1.1"/>
<rect x="1185.9" y="302.4" width="13.6" height="12.2" fill="#000000"/>
<line x1="1265.7" y1="283.6" x2="1265.7" y2="309.9" stroke="#555" stroke-width="1.1"/>
<line x1="1262.2" y1="283.6" x2="1269.2" y2="283.6" stroke="#555" stroke-width="1.1"/>
<line x1="1262.2" y1="309.9" x2="1269.2" y2="309.9" stroke="#555" stroke-width="1.1"/>
<rect x="1258.9" y="290.7" width="13.6" height="12.2" fill="#000000"/>
<line x1="1338.6" y1="270.5" x2="1338.6" y2="293.9" stroke="#555" stroke-width="1.1"/>
<line x1="1335.1" y1="270.5" x2="1342.1" y2="270.5" stroke="#555" stroke-width="1.1"/>
<line x1="1335.1" y1="293.9" x2="1342.1" y2="293.9" stroke="#555" stroke-width="1.1"/>
<rect x="1331.8" y="276.1" width="13.6" height="12.2" fill="#000000"/>
<polyline points="817.6,414.4 828.0,375.7 848.9,366.9 942.6,350.1 1057.3,341.3 1119.8,338.4 1192.7,307.0 1265.7,282.2 1338.6,263.9" fill="none" stroke="#d82828" stroke-width="2.0" stroke-linejoin="round"/>
<rect x="810.8" y="408.3" width="13.6" height="12.2" fill="#f00000"/>
<line x1="828.0" y1="361.1" x2="828.0" y2="390.3" stroke="#555" stroke-width="1.1"/>
<line x1="824.5" y1="361.1" x2="831.5" y2="361.1" stroke="#555" stroke-width="1.1"/>
<line x1="824.5" y1="390.3" x2="831.5" y2="390.3" stroke="#555" stroke-width="1.1"/>
<rect x="821.2" y="369.6" width="13.6" height="12.2" fill="#f00000"/>
<line x1="848.9" y1="356.0" x2="848.9" y2="377.9" stroke="#555" stroke-width="1.1"/>
<line x1="845.4" y1="356.0" x2="852.4" y2="356.0" stroke="#555" stroke-width="1.1"/>
<line x1="845.4" y1="377.9" x2="852.4" y2="377.9" stroke="#555" stroke-width="1.1"/>
<rect x="842.1" y="360.8" width="13.6" height="12.2" fill="#f00000"/>
<line x1="942.6" y1="339.1" x2="942.6" y2="361.1" stroke="#555" stroke-width="1.1"/>
<line x1="939.1" y1="339.1" x2="946.1" y2="339.1" stroke="#555" stroke-width="1.1"/>
<line x1="939.1" y1="361.1" x2="946.1" y2="361.1" stroke="#555" stroke-width="1.1"/>
<rect x="935.8" y="344.0" width="13.6" height="12.2" fill="#f00000"/>
<line x1="1057.3" y1="334.0" x2="1057.3" y2="348.6" stroke="#555" stroke-width="1.1"/>
<line x1="1053.8" y1="334.0" x2="1060.8" y2="334.0" stroke="#555" stroke-width="1.1"/>
<line x1="1053.8" y1="348.6" x2="1060.8" y2="348.6" stroke="#555" stroke-width="1.1"/>
<rect x="1050.5" y="335.2" width="13.6" height="12.2" fill="#f00000"/>
<line x1="1119.8" y1="331.1" x2="1119.8" y2="345.7" stroke="#555" stroke-width="1.1"/>
<line x1="1116.3" y1="331.1" x2="1123.3" y2="331.1" stroke="#555" stroke-width="1.1"/>
<line x1="1116.3" y1="345.7" x2="1123.3" y2="345.7" stroke="#555" stroke-width="1.1"/>
<rect x="1113.0" y="332.3" width="13.6" height="12.2" fill="#f00000"/>
<line x1="1192.7" y1="296.0" x2="1192.7" y2="318.0" stroke="#555" stroke-width="1.1"/>
<line x1="1189.2" y1="296.0" x2="1196.2" y2="296.0" stroke="#555" stroke-width="1.1"/>
<line x1="1189.2" y1="318.0" x2="1196.2" y2="318.0" stroke="#555" stroke-width="1.1"/>
<rect x="1185.9" y="300.9" width="13.6" height="12.2" fill="#f00000"/>
<line x1="1265.7" y1="271.2" x2="1265.7" y2="293.1" stroke="#555" stroke-width="1.1"/>
<line x1="1262.2" y1="271.2" x2="1269.2" y2="271.2" stroke="#555" stroke-width="1.1"/>
<line x1="1262.2" y1="293.1" x2="1269.2" y2="293.1" stroke="#555" stroke-width="1.1"/>
<rect x="1258.9" y="276.1" width="13.6" height="12.2" fill="#f00000"/>
<line x1="1338.6" y1="256.6" x2="1338.6" y2="271.2" stroke="#555" stroke-width="1.1"/>
<line x1="1335.1" y1="256.6" x2="1342.1" y2="256.6" stroke="#555" stroke-width="1.1"/>
<line x1="1335.1" y1="271.2" x2="1342.1" y2="271.2" stroke="#555" stroke-width="1.1"/>
<rect x="1331.8" y="257.8" width="13.6" height="12.2" fill="#f00000"/>
<polyline points="817.6,414.4 828.0,374.2 848.9,365.4 942.6,358.1 1057.3,350.1 1119.8,341.3 1192.7,319.4 1265.7,290.2 1338.6,253.7" fill="none" stroke="#2424c8" stroke-width="2.0" stroke-linejoin="round"/>
<rect x="810.8" y="408.3" width="13.6" height="12.2" fill="#0000f0"/>
<line x1="828.0" y1="366.9" x2="828.0" y2="381.5" stroke="#555" stroke-width="1.1"/>
<line x1="824.5" y1="366.9" x2="831.5" y2="366.9" stroke="#555" stroke-width="1.1"/>
<line x1="824.5" y1="381.5" x2="831.5" y2="381.5" stroke="#555" stroke-width="1.1"/>
<rect x="821.2" y="368.1" width="13.6" height="12.2" fill="#0000f0"/>
<line x1="848.9" y1="358.1" x2="848.9" y2="372.8" stroke="#555" stroke-width="1.1"/>
<line x1="845.4" y1="358.1" x2="852.4" y2="358.1" stroke="#555" stroke-width="1.1"/>
<line x1="845.4" y1="372.8" x2="852.4" y2="372.8" stroke="#555" stroke-width="1.1"/>
<rect x="842.1" y="359.3" width="13.6" height="12.2" fill="#0000f0"/>
<line x1="942.6" y1="353.8" x2="942.6" y2="362.5" stroke="#555" stroke-width="1.1"/>
<line x1="939.1" y1="353.8" x2="946.1" y2="353.8" stroke="#555" stroke-width="1.1"/>
<line x1="939.1" y1="362.5" x2="946.1" y2="362.5" stroke="#555" stroke-width="1.1"/>
<rect x="935.8" y="352.0" width="13.6" height="12.2" fill="#0000f0"/>
<line x1="1057.3" y1="341.3" x2="1057.3" y2="358.9" stroke="#555" stroke-width="1.1"/>
<line x1="1053.8" y1="341.3" x2="1060.8" y2="341.3" stroke="#555" stroke-width="1.1"/>
<line x1="1053.8" y1="358.9" x2="1060.8" y2="358.9" stroke="#555" stroke-width="1.1"/>
<rect x="1050.5" y="344.0" width="13.6" height="12.2" fill="#0000f0"/>
<line x1="1119.8" y1="334.0" x2="1119.8" y2="348.6" stroke="#555" stroke-width="1.1"/>
<line x1="1116.3" y1="334.0" x2="1123.3" y2="334.0" stroke="#555" stroke-width="1.1"/>
<line x1="1116.3" y1="348.6" x2="1123.3" y2="348.6" stroke="#555" stroke-width="1.1"/>
<rect x="1113.0" y="335.2" width="13.6" height="12.2" fill="#0000f0"/>
<line x1="1192.7" y1="310.7" x2="1192.7" y2="328.2" stroke="#555" stroke-width="1.1"/>
<line x1="1189.2" y1="310.7" x2="1196.2" y2="310.7" stroke="#555" stroke-width="1.1"/>
<line x1="1189.2" y1="328.2" x2="1196.2" y2="328.2" stroke="#555" stroke-width="1.1"/>
<rect x="1185.9" y="313.3" width="13.6" height="12.2" fill="#0000f0"/>
<line x1="1265.7" y1="279.2" x2="1265.7" y2="301.2" stroke="#555" stroke-width="1.1"/>
<line x1="1262.2" y1="279.2" x2="1269.2" y2="279.2" stroke="#555" stroke-width="1.1"/>
<line x1="1262.2" y1="301.2" x2="1269.2" y2="301.2" stroke="#555" stroke-width="1.1"/>
<rect x="1258.9" y="284.1" width="13.6" height="12.2" fill="#0000f0"/>
<line x1="1338.6" y1="247.8" x2="1338.6" y2="259.5" stroke="#555" stroke-width="1.1"/>
<line x1="1335.1" y1="247.8" x2="1342.1" y2="247.8" stroke="#555" stroke-width="1.1"/>
<line x1="1335.1" y1="259.5" x2="1342.1" y2="259.5" stroke="#555" stroke-width="1.1"/>
<rect x="1331.8" y="247.6" width="13.6" height="12.2" fill="#0000f0"/>
<polyline points="817.6,414.4 828.0,268.3 848.9,240.5 942.6,206.2 1057.3,190.8 1119.8,166.0 1192.7,137.5 1265.7,101.7 1338.6,76.9" fill="none" stroke="#111" stroke-width="2.0" stroke-linejoin="round"/>
<polygon points="809.5,408.1 825.7,408.1 817.6,420.6" fill="#000000"/>
<line x1="828.0" y1="258.1" x2="828.0" y2="278.5" stroke="#555" stroke-width="1.1"/>
<line x1="824.5" y1="258.1" x2="831.5" y2="258.1" stroke="#555" stroke-width="1.1"/>
<line x1="824.5" y1="278.5" x2="831.5" y2="278.5" stroke="#555" stroke-width="1.1"/>
<polygon points="819.9,262.0 836.1,262.0 828.0,274.5" fill="#000000"/>
<line x1="848.9" y1="231.8" x2="848.9" y2="249.3" stroke="#555" stroke-width="1.1"/>
<line x1="845.4" y1="231.8" x2="852.4" y2="231.8" stroke="#555" stroke-width="1.1"/>
<line x1="845.4" y1="249.3" x2="852.4" y2="249.3" stroke="#555" stroke-width="1.1"/>
<polygon points="840.8,234.3 857.0,234.3 848.9,246.8" fill="#000000"/>
<line x1="942.6" y1="197.4" x2="942.6" y2="214.9" stroke="#555" stroke-width="1.1"/>
<line x1="939.1" y1="197.4" x2="946.1" y2="197.4" stroke="#555" stroke-width="1.1"/>
<line x1="939.1" y1="214.9" x2="946.1" y2="214.9" stroke="#555" stroke-width="1.1"/>
<polygon points="934.5,199.9 950.7,199.9 942.6,212.4" fill="#000000"/>
<line x1="1057.3" y1="183.5" x2="1057.3" y2="198.1" stroke="#555" stroke-width="1.1"/>
<line x1="1053.8" y1="183.5" x2="1060.8" y2="183.5" stroke="#555" stroke-width="1.1"/>
<line x1="1053.8" y1="198.1" x2="1060.8" y2="198.1" stroke="#555" stroke-width="1.1"/>
<polygon points="1049.2,184.6 1065.4,184.6 1057.3,197.1" fill="#000000"/>
<line x1="1119.8" y1="160.2" x2="1119.8" y2="171.8" stroke="#555" stroke-width="1.1"/>
<line x1="1116.3" y1="160.2" x2="1123.3" y2="160.2" stroke="#555" stroke-width="1.1"/>
<line x1="1116.3" y1="171.8" x2="1123.3" y2="171.8" stroke="#555" stroke-width="1.1"/>
<polygon points="1111.7,159.7 1127.9,159.7 1119.8,172.2" fill="#000000"/>
<line x1="1192.7" y1="133.1" x2="1192.7" y2="141.9" stroke="#555" stroke-width="1.1"/>
<line x1="1189.2" y1="133.1" x2="1196.2" y2="133.1" stroke="#555" stroke-width="1.1"/>
<line x1="1189.2" y1="141.9" x2="1196.2" y2="141.9" stroke="#555" stroke-width="1.1"/>
<polygon points="1184.6,131.3 1200.8,131.3 1192.7,143.8" fill="#000000"/>
<line x1="1265.7" y1="97.3" x2="1265.7" y2="106.1" stroke="#555" stroke-width="1.1"/>
<line x1="1262.2" y1="97.3" x2="1269.2" y2="97.3" stroke="#555" stroke-width="1.1"/>
<line x1="1262.2" y1="106.1" x2="1269.2" y2="106.1" stroke="#555" stroke-width="1.1"/>
<polygon points="1257.6,95.5 1273.8,95.5 1265.7,108.0" fill="#000000"/>
<line x1="1338.6" y1="72.5" x2="1338.6" y2="81.2" stroke="#555" stroke-width="1.1"/>
<line x1="1335.1" y1="72.5" x2="1342.1" y2="72.5" stroke="#555" stroke-width="1.1"/>
<line x1="1335.1" y1="81.2" x2="1342.1" y2="81.2" stroke="#555" stroke-width="1.1"/>
<polygon points="1330.5,70.6 1346.7,70.6 1338.6,83.1" fill="#000000"/>
<polyline points="817.6,414.4 828.0,275.6 848.9,244.9 942.6,225.9 1057.3,205.4 1119.8,169.6 1192.7,126.5 1265.7,100.2 1338.6,61.5" fill="none" stroke="#d82828" stroke-width="2.0" stroke-linejoin="round"/>
<polygon points="809.5,408.1 825.7,408.1 817.6,420.6" fill="#f00000"/>
<line x1="828.0" y1="264.6" x2="828.0" y2="286.5" stroke="#555" stroke-width="1.1"/>
<line x1="824.5" y1="264.6" x2="831.5" y2="264.6" stroke="#555" stroke-width="1.1"/>
<line x1="824.5" y1="286.5" x2="831.5" y2="286.5" stroke="#555" stroke-width="1.1"/>
<polygon points="819.9,269.3 836.1,269.3 828.0,281.8" fill="#f00000"/>
<line x1="848.9" y1="233.9" x2="848.9" y2="255.9" stroke="#555" stroke-width="1.1"/>
<line x1="845.4" y1="233.9" x2="852.4" y2="233.9" stroke="#555" stroke-width="1.1"/>
<line x1="845.4" y1="255.9" x2="852.4" y2="255.9" stroke="#555" stroke-width="1.1"/>
<polygon points="840.8,238.7 857.0,238.7 848.9,251.2" fill="#f00000"/>
<line x1="942.6" y1="214.9" x2="942.6" y2="236.9" stroke="#555" stroke-width="1.1"/>
<line x1="939.1" y1="214.9" x2="946.1" y2="214.9" stroke="#555" stroke-width="1.1"/>
<line x1="939.1" y1="236.9" x2="946.1" y2="236.9" stroke="#555" stroke-width="1.1"/>
<polygon points="934.5,219.7 950.7,219.7 942.6,232.2" fill="#f00000"/>
<line x1="1057.3" y1="193.0" x2="1057.3" y2="217.9" stroke="#555" stroke-width="1.1"/>
<line x1="1053.8" y1="193.0" x2="1060.8" y2="193.0" stroke="#555" stroke-width="1.1"/>
<line x1="1053.8" y1="217.9" x2="1060.8" y2="217.9" stroke="#555" stroke-width="1.1"/>
<polygon points="1049.2,199.2 1065.4,199.2 1057.3,211.7" fill="#f00000"/>
<line x1="1119.8" y1="160.9" x2="1119.8" y2="178.4" stroke="#555" stroke-width="1.1"/>
<line x1="1116.3" y1="160.9" x2="1123.3" y2="160.9" stroke="#555" stroke-width="1.1"/>
<line x1="1116.3" y1="178.4" x2="1123.3" y2="178.4" stroke="#555" stroke-width="1.1"/>
<polygon points="1111.7,163.4 1127.9,163.4 1119.8,175.9" fill="#f00000"/>
<line x1="1192.7" y1="116.3" x2="1192.7" y2="136.8" stroke="#555" stroke-width="1.1"/>
<line x1="1189.2" y1="116.3" x2="1196.2" y2="116.3" stroke="#555" stroke-width="1.1"/>
<line x1="1189.2" y1="136.8" x2="1196.2" y2="136.8" stroke="#555" stroke-width="1.1"/>
<polygon points="1184.6,120.3 1200.8,120.3 1192.7,132.8" fill="#f00000"/>
<line x1="1265.7" y1="94.4" x2="1265.7" y2="106.1" stroke="#555" stroke-width="1.1"/>
<line x1="1262.2" y1="94.4" x2="1269.2" y2="94.4" stroke="#555" stroke-width="1.1"/>
<line x1="1262.2" y1="106.1" x2="1269.2" y2="106.1" stroke="#555" stroke-width="1.1"/>
<polygon points="1257.6,94.0 1273.8,94.0 1265.7,106.5" fill="#f00000"/>
<line x1="1338.6" y1="55.7" x2="1338.6" y2="67.4" stroke="#555" stroke-width="1.1"/>
<line x1="1335.1" y1="55.7" x2="1342.1" y2="55.7" stroke="#555" stroke-width="1.1"/>
<line x1="1335.1" y1="67.4" x2="1342.1" y2="67.4" stroke="#555" stroke-width="1.1"/>
<polygon points="1330.5,55.3 1346.7,55.3 1338.6,67.8" fill="#f00000"/>
<polyline points="817.6,414.4 828.0,271.2 848.9,250.0 942.6,220.1 1057.3,196.7 1119.8,160.9 1192.7,136.0 1265.7,95.1 1338.6,54.9" fill="none" stroke="#2424c8" stroke-width="2.0" stroke-linejoin="round"/>
<polygon points="809.5,408.1 825.7,408.1 817.6,420.6" fill="#0000f0"/>
<line x1="828.0" y1="263.9" x2="828.0" y2="278.5" stroke="#555" stroke-width="1.1"/>
<line x1="824.5" y1="263.9" x2="831.5" y2="263.9" stroke="#555" stroke-width="1.1"/>
<line x1="824.5" y1="278.5" x2="831.5" y2="278.5" stroke="#555" stroke-width="1.1"/>
<polygon points="819.9,265.0 836.1,265.0 828.0,277.5" fill="#0000f0"/>
<line x1="848.9" y1="242.7" x2="848.9" y2="257.3" stroke="#555" stroke-width="1.1"/>
<line x1="845.4" y1="242.7" x2="852.4" y2="242.7" stroke="#555" stroke-width="1.1"/>
<line x1="845.4" y1="257.3" x2="852.4" y2="257.3" stroke="#555" stroke-width="1.1"/>
<polygon points="840.8,243.8 857.0,243.8 848.9,256.3" fill="#0000f0"/>
<line x1="942.6" y1="212.8" x2="942.6" y2="227.4" stroke="#555" stroke-width="1.1"/>
<line x1="939.1" y1="212.8" x2="946.1" y2="212.8" stroke="#555" stroke-width="1.1"/>
<line x1="939.1" y1="227.4" x2="946.1" y2="227.4" stroke="#555" stroke-width="1.1"/>
<polygon points="934.5,213.8 950.7,213.8 942.6,226.3" fill="#0000f0"/>
<line x1="1057.3" y1="190.8" x2="1057.3" y2="202.5" stroke="#555" stroke-width="1.1"/>
<line x1="1053.8" y1="190.8" x2="1060.8" y2="190.8" stroke="#555" stroke-width="1.1"/>
<line x1="1053.8" y1="202.5" x2="1060.8" y2="202.5" stroke="#555" stroke-width="1.1"/>
<polygon points="1049.2,190.4 1065.4,190.4 1057.3,202.9" fill="#0000f0"/>
<line x1="1119.8" y1="155.0" x2="1119.8" y2="166.7" stroke="#555" stroke-width="1.1"/>
<line x1="1116.3" y1="155.0" x2="1123.3" y2="155.0" stroke="#555" stroke-width="1.1"/>
<line x1="1116.3" y1="166.7" x2="1123.3" y2="166.7" stroke="#555" stroke-width="1.1"/>
<polygon points="1111.7,154.6 1127.9,154.6 1119.8,167.1" fill="#0000f0"/>
<line x1="1192.7" y1="130.2" x2="1192.7" y2="141.9" stroke="#555" stroke-width="1.1"/>
<line x1="1189.2" y1="130.2" x2="1196.2" y2="130.2" stroke="#555" stroke-width="1.1"/>
<line x1="1189.2" y1="141.9" x2="1196.2" y2="141.9" stroke="#555" stroke-width="1.1"/>
<polygon points="1184.6,129.8 1200.8,129.8 1192.7,142.3" fill="#0000f0"/>
<line x1="1265.7" y1="89.3" x2="1265.7" y2="101.0" stroke="#555" stroke-width="1.1"/>
<line x1="1262.2" y1="89.3" x2="1269.2" y2="89.3" stroke="#555" stroke-width="1.1"/>
<line x1="1262.2" y1="101.0" x2="1269.2" y2="101.0" stroke="#555" stroke-width="1.1"/>
<polygon points="1257.6,88.9 1273.8,88.9 1265.7,101.4" fill="#0000f0"/>
<line x1="1338.6" y1="49.1" x2="1338.6" y2="60.8" stroke="#555" stroke-width="1.1"/>
<line x1="1335.1" y1="49.1" x2="1342.1" y2="49.1" stroke="#555" stroke-width="1.1"/>
<line x1="1335.1" y1="60.8" x2="1342.1" y2="60.8" stroke="#555" stroke-width="1.1"/>
<polygon points="1330.5,48.7 1346.7,48.7 1338.6,61.2" fill="#0000f0"/>
</g>
<rect x="822.1" y="17.7" width="241.5" height="137.1" fill="none" stroke="#8a8a8a" stroke-width="1.5"/>
<line x1="832.5" y1="36.8" x2="871.0" y2="36.8" stroke="#111" stroke-width="2.0"/>
<rect x="845.0" y="31.1" width="13.4" height="11.3" fill="#000000"/>
<text transform="translate(874.75,43.10) scale(1.1609,1.0000)" font-size="13.52" font-weight="bold" font-family="Liberation Sans, sans-serif" fill="#111">PTXL-CSCaCO<tspan font-size="8.38" dy="4.06">3</tspan><tspan dy="-4.06">NP 7.4</tspan></text>
<line x1="832.5" y1="61.9" x2="871.0" y2="61.9" stroke="#d83030" stroke-width="2.0"/>
<rect x="845.0" y="56.2" width="13.4" height="11.3" fill="#f00000"/>
<text transform="translate(874.75,66.90) scale(1.1635,1.0000)" font-size="13.52" font-weight="bold" font-family="Liberation Sans, sans-serif" fill="#111">PTXL-CSCaCO<tspan font-size="8.38" dy="4.06">3</tspan><tspan dy="-4.06">NP 6.5</tspan></text>
<line x1="832.5" y1="85.6" x2="871.0" y2="85.6" stroke="#3030b0" stroke-width="2.0"/>
<rect x="845.0" y="79.9" width="13.4" height="11.3" fill="#0000f0"/>
<text transform="translate(874.75,90.50) scale(1.1644,1.0000)" font-size="13.52" font-weight="bold" font-family="Liberation Sans, sans-serif" fill="#111">PTXL-CSCaCO<tspan font-size="8.38" dy="4.06">3</tspan><tspan dy="-4.06">NP 5.6</tspan></text>
<line x1="832.5" y1="109.4" x2="871.0" y2="109.4" stroke="#111" stroke-width="2.0"/>
<polygon points="845.0,108.0 858.4,108.0 851.7,118.4" fill="#000000"/>
<text transform="translate(874.73,114.30) scale(1.1778,1.0000)" font-size="13.52" font-weight="bold" font-family="Liberation Sans, sans-serif" fill="#111">PTXL 7.4</text>
<line x1="832.5" y1="127.7" x2="871.0" y2="127.7" stroke="#d83030" stroke-width="2.0"/>
<polygon points="845.0,126.3 858.4,126.3 851.7,136.7" fill="#f00000"/>
<text transform="translate(874.73,133.00) scale(1.1844,1.0000)" font-size="13.52" font-weight="bold" font-family="Liberation Sans, sans-serif" fill="#111">PTXL 6.5</text>
<line x1="832.5" y1="146.1" x2="871.0" y2="146.1" stroke="#3030b0" stroke-width="2.0"/>
<polygon points="845.0,144.7 858.4,144.7 851.7,155.1" fill="#0000f0"/>
<text transform="translate(874.73,150.90) scale(1.1867,1.0000)" font-size="13.52" font-weight="bold" font-family="Liberation Sans, sans-serif" fill="#111">PTXL 5.6</text>
<line x1="86.0" y1="549.7" x2="643.2" y2="549.7" stroke="#707070" stroke-width="1.8"/>
<line x1="643.2" y1="549.7" x2="643.2" y2="938.7" stroke="#404040" stroke-width="1.8"/>
<line x1="86.0" y1="549.7" x2="86.0" y2="938.7" stroke="#404040" stroke-width="1.8"/>
<line x1="86.0" y1="938.7" x2="643.2" y2="938.7" stroke="#404040" stroke-width="1.8"/>
<line x1="77.0" y1="938.7" x2="86.0" y2="938.7" stroke="#404040" stroke-width="1.7"/>
<text transform="translate(61.01,943.62) scale(1.1500,1)" font-size="17.20" font-weight="bold" font-family="Liberation Sans, sans-serif" fill="#111">0</text>
<line x1="77.0" y1="860.9" x2="86.0" y2="860.9" stroke="#404040" stroke-width="1.7"/>
<text transform="translate(50.02,865.82) scale(1.1500,1)" font-size="17.20" font-weight="bold" font-family="Liberation Sans, sans-serif" fill="#111">10</text>
<line x1="77.0" y1="783.1" x2="86.0" y2="783.1" stroke="#404040" stroke-width="1.7"/>
<text transform="translate(50.02,788.02) scale(1.1500,1)" font-size="17.20" font-weight="bold" font-family="Liberation Sans, sans-serif" fill="#111">20</text>
<line x1="77.0" y1="705.3" x2="86.0" y2="705.3" stroke="#404040" stroke-width="1.7"/>
<text transform="translate(50.02,710.21) scale(1.1500,1)" font-size="17.20" font-weight="bold" font-family="Liberation Sans, sans-serif" fill="#111">30</text>
<line x1="77.0" y1="627.5" x2="86.0" y2="627.5" stroke="#404040" stroke-width="1.7"/>
<text transform="translate(50.02,632.42) scale(1.1500,1)" font-size="17.20" font-weight="bold" font-family="Liberation Sans, sans-serif" fill="#111">40</text>
<line x1="77.0" y1="549.7" x2="86.0" y2="549.7" stroke="#404040" stroke-width="1.7"/>
<text transform="translate(50.02,554.62) scale(1.1500,1)" font-size="17.20" font-weight="bold" font-family="Liberation Sans, sans-serif" fill="#111">50</text>
<line x1="81.0" y1="899.8" x2="86.0" y2="899.8" stroke="#404040" stroke-width="1.5"/>
<line x1="81.0" y1="822.0" x2="86.0" y2="822.0" stroke="#404040" stroke-width="1.5"/>
<line x1="81.0" y1="744.2" x2="86.0" y2="744.2" stroke="#404040" stroke-width="1.5"/>
<line x1="81.0" y1="666.4" x2="86.0" y2="666.4" stroke="#404040" stroke-width="1.5"/>
<line x1="81.0" y1="588.6" x2="86.0" y2="588.6" stroke="#404040" stroke-width="1.5"/>
<line x1="85.8" y1="938.7" x2="85.8" y2="946.2" stroke="#404040" stroke-width="1.7"/>
<text transform="translate(80.42,963.65) scale(1.1400,1)" font-size="17.00" font-weight="bold" font-family="Liberation Sans, sans-serif" fill="#111">0</text>
<line x1="138.9" y1="938.7" x2="138.9" y2="946.2" stroke="#404040" stroke-width="1.7"/>
<text transform="translate(127.89,963.65) scale(1.1400,1)" font-size="17.00" font-weight="bold" font-family="Liberation Sans, sans-serif" fill="#111">10</text>
<line x1="192.0" y1="938.7" x2="192.0" y2="946.2" stroke="#404040" stroke-width="1.7"/>
<text transform="translate(181.24,963.65) scale(1.1400,1)" font-size="17.00" font-weight="bold" font-family="Liberation Sans, sans-serif" fill="#111">20</text>
<line x1="245.0" y1="938.7" x2="245.0" y2="946.2" stroke="#404040" stroke-width="1.7"/>
<text transform="translate(234.44,963.64) scale(1.1400,1)" font-size="17.00" font-weight="bold" font-family="Liberation Sans, sans-serif" fill="#111">30</text>
<line x1="298.1" y1="938.7" x2="298.1" y2="946.2" stroke="#404040" stroke-width="1.7"/>
<text transform="translate(287.60,963.65) scale(1.1400,1)" font-size="17.00" font-weight="bold" font-family="Liberation Sans, sans-serif" fill="#111">40</text>
<line x1="351.2" y1="938.7" x2="351.2" y2="946.2" stroke="#404040" stroke-width="1.7"/>
<text transform="translate(340.52,963.65) scale(1.1400,1)" font-size="17.00" font-weight="bold" font-family="Liberation Sans, sans-serif" fill="#111">50</text>
<line x1="404.3" y1="938.7" x2="404.3" y2="946.2" stroke="#404040" stroke-width="1.7"/>
<text transform="translate(393.54,963.65) scale(1.1400,1)" font-size="17.00" font-weight="bold" font-family="Liberation Sans, sans-serif" fill="#111">60</text>
<line x1="457.4" y1="938.7" x2="457.4" y2="946.2" stroke="#404040" stroke-width="1.7"/>
<text transform="translate(446.57,963.65) scale(1.1400,1)" font-size="17.00" font-weight="bold" font-family="Liberation Sans, sans-serif" fill="#111">70</text>
<line x1="510.4" y1="938.7" x2="510.4" y2="946.2" stroke="#404040" stroke-width="1.7"/>
<text transform="translate(499.75,963.65) scale(1.1400,1)" font-size="17.00" font-weight="bold" font-family="Liberation Sans, sans-serif" fill="#111">80</text>
<line x1="563.5" y1="938.7" x2="563.5" y2="946.2" stroke="#404040" stroke-width="1.7"/>
<text transform="translate(552.80,963.65) scale(1.1400,1)" font-size="17.00" font-weight="bold" font-family="Liberation Sans, sans-serif" fill="#111">90</text>
<line x1="616.6" y1="938.7" x2="616.6" y2="946.2" stroke="#404040" stroke-width="1.7"/>
<text transform="translate(600.22,963.65) scale(1.1400,1)" font-size="17.00" font-weight="bold" font-family="Liberation Sans, sans-serif" fill="#111">100</text>
<line x1="112.3" y1="938.7" x2="112.3" y2="942.7" stroke="#404040" stroke-width="1.5"/>
<line x1="165.4" y1="938.7" x2="165.4" y2="942.7" stroke="#404040" stroke-width="1.5"/>
<line x1="218.5" y1="938.7" x2="218.5" y2="942.7" stroke="#404040" stroke-width="1.5"/>
<line x1="271.6" y1="938.7" x2="271.6" y2="942.7" stroke="#404040" stroke-width="1.5"/>
<line x1="324.7" y1="938.7" x2="324.7" y2="942.7" stroke="#404040" stroke-width="1.5"/>
<line x1="377.7" y1="938.7" x2="377.7" y2="942.7" stroke="#404040" stroke-width="1.5"/>
<line x1="430.8" y1="938.7" x2="430.8" y2="942.7" stroke="#404040" stroke-width="1.5"/>
<line x1="483.9" y1="938.7" x2="483.9" y2="942.7" stroke="#404040" stroke-width="1.5"/>
<line x1="537.0" y1="938.7" x2="537.0" y2="942.7" stroke="#404040" stroke-width="1.5"/>
<line x1="590.1" y1="938.7" x2="590.1" y2="942.7" stroke="#404040" stroke-width="1.5"/>
<line x1="643.1" y1="938.7" x2="643.1" y2="942.7" stroke="#404040" stroke-width="1.5"/>
<text transform="translate(38.00,784.73) rotate(-90) scale(1.0116,1.1714)" font-size="17.50" font-weight="bold" font-family="Liberation Sans, sans-serif" fill="#111">CDR (%)</text>
<text transform="translate(285.79,996.30) scale(1.0820,1.0000)" font-size="17.44" font-weight="bold" font-family="Liberation Sans, sans-serif" fill="#111">TIME (HOURS)</text>
<text transform="translate(315.58,1038.40) scale(1.0176,1)" font-size="25.00" font-family="Liberation Serif, serif" fill="#000">(<tspan stroke="#000" stroke-width="0.55">c</tspan>)</text>
<clipPath id="clip3"><rect x="86.0" y="549.7" width="557.2" height="389.0"/></clipPath>
<g clip-path="url(#clip3)">
<polyline points="85.8,938.7 96.4,923.1 117.6,918.5 213.2,887.4 330.0,873.3 393.7,855.5 468.0,833.7 542.3,801.0 616.6,771.4" fill="none" stroke="#2c2c7c" stroke-width="2.2" stroke-linejoin="round"/>
<rect x="79.0" y="932.6" width="13.6" height="12.2" fill="#0c0ce0"/>
<line x1="96.4" y1="911.5" x2="96.4" y2="934.8" stroke="#5a5a70" stroke-width="1.1"/>
<line x1="92.9" y1="911.5" x2="99.9" y2="911.5" stroke="#5a5a70" stroke-width="1.1"/>
<line x1="92.9" y1="934.8" x2="99.9" y2="934.8" stroke="#5a5a70" stroke-width="1.1"/>
<rect x="89.6" y="917.0" width="13.6" height="12.2" fill="#0c0ce0"/>
<line x1="117.6" y1="906.8" x2="117.6" y2="930.1" stroke="#5a5a70" stroke-width="1.1"/>
<line x1="114.1" y1="906.8" x2="121.1" y2="906.8" stroke="#5a5a70" stroke-width="1.1"/>
<line x1="114.1" y1="930.1" x2="121.1" y2="930.1" stroke="#5a5a70" stroke-width="1.1"/>
<rect x="110.8" y="912.4" width="13.6" height="12.2" fill="#0c0ce0"/>
<line x1="213.2" y1="871.8" x2="213.2" y2="902.9" stroke="#5a5a70" stroke-width="1.1"/>
<line x1="209.7" y1="871.8" x2="216.7" y2="871.8" stroke="#5a5a70" stroke-width="1.1"/>
<line x1="209.7" y1="902.9" x2="216.7" y2="902.9" stroke="#5a5a70" stroke-width="1.1"/>
<rect x="206.4" y="881.3" width="13.6" height="12.2" fill="#0c0ce0"/>
<line x1="330.0" y1="864.0" x2="330.0" y2="882.7" stroke="#5a5a70" stroke-width="1.1"/>
<line x1="326.5" y1="864.0" x2="333.5" y2="864.0" stroke="#5a5a70" stroke-width="1.1"/>
<line x1="326.5" y1="882.7" x2="333.5" y2="882.7" stroke="#5a5a70" stroke-width="1.1"/>
<rect x="323.2" y="867.2" width="13.6" height="12.2" fill="#0c0ce0"/>
<line x1="393.7" y1="847.7" x2="393.7" y2="863.2" stroke="#5a5a70" stroke-width="1.1"/>
<line x1="390.2" y1="847.7" x2="397.2" y2="847.7" stroke="#5a5a70" stroke-width="1.1"/>
<line x1="390.2" y1="863.2" x2="397.2" y2="863.2" stroke="#5a5a70" stroke-width="1.1"/>
<rect x="386.9" y="849.4" width="13.6" height="12.2" fill="#0c0ce0"/>
<line x1="468.0" y1="822.8" x2="468.0" y2="844.6" stroke="#5a5a70" stroke-width="1.1"/>
<line x1="464.5" y1="822.8" x2="471.5" y2="822.8" stroke="#5a5a70" stroke-width="1.1"/>
<line x1="464.5" y1="844.6" x2="471.5" y2="844.6" stroke="#5a5a70" stroke-width="1.1"/>
<rect x="461.2" y="827.6" width="13.6" height="12.2" fill="#0c0ce0"/>
<line x1="542.3" y1="790.9" x2="542.3" y2="811.1" stroke="#5a5a70" stroke-width="1.1"/>
<line x1="538.8" y1="790.9" x2="545.8" y2="790.9" stroke="#5a5a70" stroke-width="1.1"/>
<line x1="538.8" y1="811.1" x2="545.8" y2="811.1" stroke="#5a5a70" stroke-width="1.1"/>
<rect x="535.5" y="794.9" width="13.6" height="12.2" fill="#0c0ce0"/>
<line x1="616.6" y1="763.7" x2="616.6" y2="779.2" stroke="#5a5a70" stroke-width="1.1"/>
<line x1="613.1" y1="763.7" x2="620.1" y2="763.7" stroke="#5a5a70" stroke-width="1.1"/>
<line x1="613.1" y1="779.2" x2="620.1" y2="779.2" stroke="#5a5a70" stroke-width="1.1"/>
<rect x="609.8" y="765.3" width="13.6" height="12.2" fill="#0c0ce0"/>
<polyline points="85.8,938.7 96.4,924.7 117.6,913.8 213.2,890.5 330.0,878.0 393.7,858.6 468.0,841.5 542.3,821.2 616.6,794.8" fill="none" stroke="#d030d0" stroke-width="2.2" stroke-linejoin="round"/>
<ellipse cx="85.8" cy="938.7" rx="6.5" ry="6.5" fill="#f000f0"/>
<line x1="96.4" y1="916.9" x2="96.4" y2="932.5" stroke="#5a5a70" stroke-width="1.1"/>
<line x1="92.9" y1="916.9" x2="99.9" y2="916.9" stroke="#5a5a70" stroke-width="1.1"/>
<line x1="92.9" y1="932.5" x2="99.9" y2="932.5" stroke="#5a5a70" stroke-width="1.1"/>
<ellipse cx="96.4" cy="924.7" rx="6.5" ry="6.5" fill="#f000f0"/>
<line x1="117.6" y1="898.2" x2="117.6" y2="929.4" stroke="#5a5a70" stroke-width="1.1"/>
<line x1="114.1" y1="898.2" x2="121.1" y2="898.2" stroke="#5a5a70" stroke-width="1.1"/>
<line x1="114.1" y1="929.4" x2="121.1" y2="929.4" stroke="#5a5a70" stroke-width="1.1"/>
<ellipse cx="117.6" cy="913.8" rx="6.5" ry="6.5" fill="#f000f0"/>
<line x1="213.2" y1="876.5" x2="213.2" y2="904.5" stroke="#5a5a70" stroke-width="1.1"/>
<line x1="209.7" y1="876.5" x2="216.7" y2="876.5" stroke="#5a5a70" stroke-width="1.1"/>
<line x1="209.7" y1="904.5" x2="216.7" y2="904.5" stroke="#5a5a70" stroke-width="1.1"/>
<ellipse cx="213.2" cy="890.5" rx="6.5" ry="6.5" fill="#f000f0"/>
<line x1="330.0" y1="871.8" x2="330.0" y2="884.2" stroke="#5a5a70" stroke-width="1.1"/>
<line x1="326.5" y1="871.8" x2="333.5" y2="871.8" stroke="#5a5a70" stroke-width="1.1"/>
<line x1="326.5" y1="884.2" x2="333.5" y2="884.2" stroke="#5a5a70" stroke-width="1.1"/>
<ellipse cx="330.0" cy="878.0" rx="6.5" ry="6.5" fill="#f000f0"/>
<line x1="393.7" y1="847.7" x2="393.7" y2="869.5" stroke="#5a5a70" stroke-width="1.1"/>
<line x1="390.2" y1="847.7" x2="397.2" y2="847.7" stroke="#5a5a70" stroke-width="1.1"/>
<line x1="390.2" y1="869.5" x2="397.2" y2="869.5" stroke="#5a5a70" stroke-width="1.1"/>
<ellipse cx="393.7" cy="858.6" rx="6.5" ry="6.5" fill="#f000f0"/>
<line x1="468.0" y1="835.2" x2="468.0" y2="847.7" stroke="#5a5a70" stroke-width="1.1"/>
<line x1="464.5" y1="835.2" x2="471.5" y2="835.2" stroke="#5a5a70" stroke-width="1.1"/>
<line x1="464.5" y1="847.7" x2="471.5" y2="847.7" stroke="#5a5a70" stroke-width="1.1"/>
<ellipse cx="468.0" cy="841.5" rx="6.5" ry="6.5" fill="#f000f0"/>
<line x1="542.3" y1="811.9" x2="542.3" y2="830.6" stroke="#5a5a70" stroke-width="1.1"/>
<line x1="538.8" y1="811.9" x2="545.8" y2="811.9" stroke="#5a5a70" stroke-width="1.1"/>
<line x1="538.8" y1="830.6" x2="545.8" y2="830.6" stroke="#5a5a70" stroke-width="1.1"/>
<ellipse cx="542.3" cy="821.2" rx="6.5" ry="6.5" fill="#f000f0"/>
<line x1="616.6" y1="787.0" x2="616.6" y2="802.6" stroke="#5a5a70" stroke-width="1.1"/>
<line x1="613.1" y1="787.0" x2="620.1" y2="787.0" stroke="#5a5a70" stroke-width="1.1"/>
<line x1="613.1" y1="802.6" x2="620.1" y2="802.6" stroke="#5a5a70" stroke-width="1.1"/>
<ellipse cx="616.6" cy="794.8" rx="6.5" ry="6.5" fill="#f000f0"/>
<polyline points="85.8,938.7 96.4,839.1 117.6,825.9 213.2,806.8 330.0,780.8 393.7,741.1 468.0,712.3 542.3,681.2 616.6,651.6" fill="none" stroke="#2c2c7c" stroke-width="2.2" stroke-linejoin="round"/>
<polygon points="77.7,945.0 93.9,945.0 85.8,932.5" fill="#0c0ce0"/>
<line x1="96.4" y1="831.3" x2="96.4" y2="846.9" stroke="#5a5a70" stroke-width="1.1"/>
<line x1="92.9" y1="831.3" x2="99.9" y2="831.3" stroke="#5a5a70" stroke-width="1.1"/>
<line x1="92.9" y1="846.9" x2="99.9" y2="846.9" stroke="#5a5a70" stroke-width="1.1"/>
<polygon points="88.3,845.4 104.5,845.4 96.4,832.9" fill="#0c0ce0"/>
<line x1="117.6" y1="818.1" x2="117.6" y2="833.7" stroke="#5a5a70" stroke-width="1.1"/>
<line x1="114.1" y1="818.1" x2="121.1" y2="818.1" stroke="#5a5a70" stroke-width="1.1"/>
<line x1="114.1" y1="833.7" x2="121.1" y2="833.7" stroke="#5a5a70" stroke-width="1.1"/>
<polygon points="109.5,832.1 125.7,832.1 117.6,819.6" fill="#0c0ce0"/>
<line x1="213.2" y1="794.4" x2="213.2" y2="819.3" stroke="#5a5a70" stroke-width="1.1"/>
<line x1="209.7" y1="794.4" x2="216.7" y2="794.4" stroke="#5a5a70" stroke-width="1.1"/>
<line x1="209.7" y1="819.3" x2="216.7" y2="819.3" stroke="#5a5a70" stroke-width="1.1"/>
<polygon points="205.1,813.1 221.3,813.1 213.2,800.6" fill="#0c0ce0"/>
<line x1="330.0" y1="774.5" x2="330.0" y2="787.0" stroke="#5a5a70" stroke-width="1.1"/>
<line x1="326.5" y1="774.5" x2="333.5" y2="774.5" stroke="#5a5a70" stroke-width="1.1"/>
<line x1="326.5" y1="787.0" x2="333.5" y2="787.0" stroke="#5a5a70" stroke-width="1.1"/>
<polygon points="321.9,787.0 338.1,787.0 330.0,774.5" fill="#0c0ce0"/>
<line x1="393.7" y1="736.4" x2="393.7" y2="745.8" stroke="#5a5a70" stroke-width="1.1"/>
<line x1="390.2" y1="736.4" x2="397.2" y2="736.4" stroke="#5a5a70" stroke-width="1.1"/>
<line x1="390.2" y1="745.8" x2="397.2" y2="745.8" stroke="#5a5a70" stroke-width="1.1"/>
<polygon points="385.6,747.3 401.8,747.3 393.7,734.8" fill="#0c0ce0"/>
<line x1="468.0" y1="703.0" x2="468.0" y2="721.6" stroke="#5a5a70" stroke-width="1.1"/>
<line x1="464.5" y1="703.0" x2="471.5" y2="703.0" stroke="#5a5a70" stroke-width="1.1"/>
<line x1="464.5" y1="721.6" x2="471.5" y2="721.6" stroke="#5a5a70" stroke-width="1.1"/>
<polygon points="459.9,718.6 476.1,718.6 468.0,706.1" fill="#0c0ce0"/>
<line x1="542.3" y1="675.0" x2="542.3" y2="687.4" stroke="#5a5a70" stroke-width="1.1"/>
<line x1="538.8" y1="675.0" x2="545.8" y2="675.0" stroke="#5a5a70" stroke-width="1.1"/>
<line x1="538.8" y1="687.4" x2="545.8" y2="687.4" stroke="#5a5a70" stroke-width="1.1"/>
<polygon points="534.2,687.4 550.4,687.4 542.3,674.9" fill="#0c0ce0"/>
<line x1="616.6" y1="647.0" x2="616.6" y2="656.3" stroke="#5a5a70" stroke-width="1.1"/>
<line x1="613.1" y1="647.0" x2="620.1" y2="647.0" stroke="#5a5a70" stroke-width="1.1"/>
<line x1="613.1" y1="656.3" x2="620.1" y2="656.3" stroke="#5a5a70" stroke-width="1.1"/>
<polygon points="608.5,657.9 624.7,657.9 616.6,645.4" fill="#0c0ce0"/>
<polyline points="85.8,938.7 96.4,845.3 117.6,833.7 213.2,822.8 330.0,788.5 393.7,763.7 468.0,743.4 542.3,716.2 616.6,692.1" fill="none" stroke="#d030d0" stroke-width="2.2" stroke-linejoin="round"/>
<polygon points="77.7,932.5 93.9,932.5 85.8,945.0" fill="#f000f0"/>
<line x1="96.4" y1="833.7" x2="96.4" y2="857.0" stroke="#5a5a70" stroke-width="1.1"/>
<line x1="92.9" y1="833.7" x2="99.9" y2="833.7" stroke="#5a5a70" stroke-width="1.1"/>
<line x1="92.9" y1="857.0" x2="99.9" y2="857.0" stroke="#5a5a70" stroke-width="1.1"/>
<polygon points="88.3,839.1 104.5,839.1 96.4,851.6" fill="#f000f0"/>
<line x1="117.6" y1="818.1" x2="117.6" y2="849.2" stroke="#5a5a70" stroke-width="1.1"/>
<line x1="114.1" y1="818.1" x2="121.1" y2="818.1" stroke="#5a5a70" stroke-width="1.1"/>
<line x1="114.1" y1="849.2" x2="121.1" y2="849.2" stroke="#5a5a70" stroke-width="1.1"/>
<polygon points="109.5,827.4 125.7,827.4 117.6,839.9" fill="#f000f0"/>
<line x1="213.2" y1="811.1" x2="213.2" y2="834.4" stroke="#5a5a70" stroke-width="1.1"/>
<line x1="209.7" y1="811.1" x2="216.7" y2="811.1" stroke="#5a5a70" stroke-width="1.1"/>
<line x1="209.7" y1="834.4" x2="216.7" y2="834.4" stroke="#5a5a70" stroke-width="1.1"/>
<polygon points="205.1,816.5 221.3,816.5 213.2,829.0" fill="#f000f0"/>
<line x1="330.0" y1="782.3" x2="330.0" y2="794.8" stroke="#5a5a70" stroke-width="1.1"/>
<line x1="326.5" y1="782.3" x2="333.5" y2="782.3" stroke="#5a5a70" stroke-width="1.1"/>
<line x1="326.5" y1="794.8" x2="333.5" y2="794.8" stroke="#5a5a70" stroke-width="1.1"/>
<polygon points="321.9,782.3 338.1,782.3 330.0,794.8" fill="#f000f0"/>
<line x1="393.7" y1="754.3" x2="393.7" y2="773.0" stroke="#5a5a70" stroke-width="1.1"/>
<line x1="390.2" y1="754.3" x2="397.2" y2="754.3" stroke="#5a5a70" stroke-width="1.1"/>
<line x1="390.2" y1="773.0" x2="397.2" y2="773.0" stroke="#5a5a70" stroke-width="1.1"/>
<polygon points="385.6,757.4 401.8,757.4 393.7,769.9" fill="#f000f0"/>
<line x1="468.0" y1="731.0" x2="468.0" y2="755.9" stroke="#5a5a70" stroke-width="1.1"/>
<line x1="464.5" y1="731.0" x2="471.5" y2="731.0" stroke="#5a5a70" stroke-width="1.1"/>
<line x1="464.5" y1="755.9" x2="471.5" y2="755.9" stroke="#5a5a70" stroke-width="1.1"/>
<polygon points="459.9,737.2 476.1,737.2 468.0,749.7" fill="#f000f0"/>
<line x1="542.3" y1="708.4" x2="542.3" y2="724.0" stroke="#5a5a70" stroke-width="1.1"/>
<line x1="538.8" y1="708.4" x2="545.8" y2="708.4" stroke="#5a5a70" stroke-width="1.1"/>
<line x1="538.8" y1="724.0" x2="545.8" y2="724.0" stroke="#5a5a70" stroke-width="1.1"/>
<polygon points="534.2,709.9 550.4,709.9 542.3,722.4" fill="#f000f0"/>
<line x1="616.6" y1="684.3" x2="616.6" y2="699.9" stroke="#5a5a70" stroke-width="1.1"/>
<line x1="613.1" y1="684.3" x2="620.1" y2="684.3" stroke="#5a5a70" stroke-width="1.1"/>
<line x1="613.1" y1="699.9" x2="620.1" y2="699.9" stroke="#5a5a70" stroke-width="1.1"/>
<polygon points="608.5,685.8 624.7,685.8 616.6,698.3" fill="#f000f0"/>
</g>
<rect x="92.2" y="556.6" width="380.0" height="100.1" fill="none" stroke="#8a8a8a" stroke-width="1.5"/>
<line x1="110.2" y1="576.0" x2="154.2" y2="576.0" stroke="#2c2c7c" stroke-width="2.0"/>
<rect x="124.9" y="570.1" width="14.5" height="11.8" fill="#0c0ce0"/>
<text transform="translate(159.86,581.90) scale(1.1765,1.0000)" font-size="15.41" font-weight="bold" font-family="Liberation Sans, sans-serif" fill="#111">GEF- PTXL-CSCaCO<tspan font-size="9.55" dy="4.62">3</tspan><tspan dy="-4.62">NP (GEF) 7.4</tspan></text>
<line x1="110.2" y1="601.1" x2="154.2" y2="601.1" stroke="#d040d0" stroke-width="2.0"/>
<ellipse cx="132.2" cy="601.1" rx="5.8" ry="5.9" fill="#f000f0"/>
<text transform="translate(159.85,606.70) scale(1.1817,1.0000)" font-size="15.41" font-weight="bold" font-family="Liberation Sans, sans-serif" fill="#111">GEF- PTXL-CSCaCO<tspan font-size="9.55" dy="4.62">3</tspan><tspan dy="-4.62">NP (PTXL) 7.4</tspan></text>
<line x1="110.2" y1="626.8" x2="154.2" y2="626.8" stroke="#2c2c7c" stroke-width="2.0"/>
<polygon points="123.9,630.9 140.4,630.9 132.2,619.6" fill="#0c0ce0"/>
<text transform="translate(159.86,632.60) scale(1.1779,1.0000)" font-size="15.41" font-weight="bold" font-family="Liberation Sans, sans-serif" fill="#111">GEF- PTXL (GEF) 7.4</text>
<line x1="110.2" y1="647.2" x2="154.2" y2="647.2" stroke="#d040d0" stroke-width="2.0"/>
<polygon points="123.9,643.1 140.4,643.1 132.2,654.4" fill="#f000f0"/>
<text transform="translate(159.85,652.70) scale(1.1830,1.0000)" font-size="15.41" font-weight="bold" font-family="Liberation Sans, sans-serif" fill="#111">GEF- PTXL (PTXL) 7.4</text>
<line x1="813.8" y1="558.3" x2="1358.0" y2="558.3" stroke="#707070" stroke-width="1.8"/>
<line x1="1358.0" y1="558.3" x2="1358.0" y2="936.9" stroke="#404040" stroke-width="1.8"/>
<line x1="813.8" y1="558.3" x2="813.8" y2="936.9" stroke="#404040" stroke-width="1.8"/>
<line x1="813.8" y1="936.9" x2="1358.0" y2="936.9" stroke="#404040" stroke-width="1.8"/>
<line x1="804.8" y1="936.9" x2="813.8" y2="936.9" stroke="#404040" stroke-width="1.7"/>
<text transform="translate(789.84,941.82) scale(1.0900,1)" font-size="17.20" font-weight="bold" font-family="Liberation Sans, sans-serif" fill="#111">0</text>
<line x1="804.8" y1="861.2" x2="813.8" y2="861.2" stroke="#404040" stroke-width="1.7"/>
<text transform="translate(779.42,866.10) scale(1.0900,1)" font-size="17.20" font-weight="bold" font-family="Liberation Sans, sans-serif" fill="#111">10</text>
<line x1="804.8" y1="785.5" x2="813.8" y2="785.5" stroke="#404040" stroke-width="1.7"/>
<text transform="translate(779.42,790.38) scale(1.0900,1)" font-size="17.20" font-weight="bold" font-family="Liberation Sans, sans-serif" fill="#111">20</text>
<line x1="804.8" y1="709.7" x2="813.8" y2="709.7" stroke="#404040" stroke-width="1.7"/>
<text transform="translate(779.42,714.65) scale(1.0900,1)" font-size="17.20" font-weight="bold" font-family="Liberation Sans, sans-serif" fill="#111">30</text>
<line x1="804.8" y1="634.0" x2="813.8" y2="634.0" stroke="#404040" stroke-width="1.7"/>
<text transform="translate(779.42,638.94) scale(1.0900,1)" font-size="17.20" font-weight="bold" font-family="Liberation Sans, sans-serif" fill="#111">40</text>
<line x1="804.8" y1="558.3" x2="813.8" y2="558.3" stroke="#404040" stroke-width="1.7"/>
<text transform="translate(779.42,563.22) scale(1.0900,1)" font-size="17.20" font-weight="bold" font-family="Liberation Sans, sans-serif" fill="#111">50</text>
<line x1="808.8" y1="899.0" x2="813.8" y2="899.0" stroke="#404040" stroke-width="1.5"/>
<line x1="808.8" y1="823.3" x2="813.8" y2="823.3" stroke="#404040" stroke-width="1.5"/>
<line x1="808.8" y1="747.6" x2="813.8" y2="747.6" stroke="#404040" stroke-width="1.5"/>
<line x1="808.8" y1="671.9" x2="813.8" y2="671.9" stroke="#404040" stroke-width="1.5"/>
<line x1="808.8" y1="596.2" x2="813.8" y2="596.2" stroke="#404040" stroke-width="1.5"/>
<line x1="813.7" y1="936.9" x2="813.7" y2="944.4" stroke="#404040" stroke-width="1.7"/>
<text transform="translate(808.60,960.84) scale(1.1200,1)" font-size="16.40" font-weight="bold" font-family="Liberation Sans, sans-serif" fill="#111">0</text>
<line x1="865.5" y1="936.9" x2="865.5" y2="944.4" stroke="#404040" stroke-width="1.7"/>
<text transform="translate(855.08,960.84) scale(1.1200,1)" font-size="16.40" font-weight="bold" font-family="Liberation Sans, sans-serif" fill="#111">10</text>
<line x1="917.3" y1="936.9" x2="917.3" y2="944.4" stroke="#404040" stroke-width="1.7"/>
<text transform="translate(907.12,960.84) scale(1.1200,1)" font-size="16.40" font-weight="bold" font-family="Liberation Sans, sans-serif" fill="#111">20</text>
<line x1="969.1" y1="936.9" x2="969.1" y2="944.4" stroke="#404040" stroke-width="1.7"/>
<text transform="translate(959.02,960.83) scale(1.1200,1)" font-size="16.40" font-weight="bold" font-family="Liberation Sans, sans-serif" fill="#111">30</text>
<line x1="1020.9" y1="936.9" x2="1020.9" y2="944.4" stroke="#404040" stroke-width="1.7"/>
<text transform="translate(1010.89,960.84) scale(1.1200,1)" font-size="16.40" font-weight="bold" font-family="Liberation Sans, sans-serif" fill="#111">40</text>
<line x1="1072.7" y1="936.9" x2="1072.7" y2="944.4" stroke="#404040" stroke-width="1.7"/>
<text transform="translate(1062.53,960.84) scale(1.1200,1)" font-size="16.40" font-weight="bold" font-family="Liberation Sans, sans-serif" fill="#111">50</text>
<line x1="1124.4" y1="936.9" x2="1124.4" y2="944.4" stroke="#404040" stroke-width="1.7"/>
<text transform="translate(1114.26,960.84) scale(1.1200,1)" font-size="16.40" font-weight="bold" font-family="Liberation Sans, sans-serif" fill="#111">60</text>
<line x1="1176.2" y1="936.9" x2="1176.2" y2="944.4" stroke="#404040" stroke-width="1.7"/>
<text transform="translate(1166.00,960.84) scale(1.1200,1)" font-size="16.40" font-weight="bold" font-family="Liberation Sans, sans-serif" fill="#111">70</text>
<line x1="1228.0" y1="936.9" x2="1228.0" y2="944.4" stroke="#404040" stroke-width="1.7"/>
<text transform="translate(1217.89,960.84) scale(1.1200,1)" font-size="16.40" font-weight="bold" font-family="Liberation Sans, sans-serif" fill="#111">80</text>
<line x1="1279.8" y1="936.9" x2="1279.8" y2="944.4" stroke="#404040" stroke-width="1.7"/>
<text transform="translate(1269.65,960.84) scale(1.1200,1)" font-size="16.40" font-weight="bold" font-family="Liberation Sans, sans-serif" fill="#111">90</text>
<line x1="1331.6" y1="936.9" x2="1331.6" y2="944.4" stroke="#404040" stroke-width="1.7"/>
<text transform="translate(1316.08,960.84) scale(1.1200,1)" font-size="16.40" font-weight="bold" font-family="Liberation Sans, sans-serif" fill="#111">100</text>
<line x1="839.6" y1="936.9" x2="839.6" y2="940.9" stroke="#404040" stroke-width="1.5"/>
<line x1="891.4" y1="936.9" x2="891.4" y2="940.9" stroke="#404040" stroke-width="1.5"/>
<line x1="943.2" y1="936.9" x2="943.2" y2="940.9" stroke="#404040" stroke-width="1.5"/>
<line x1="995.0" y1="936.9" x2="995.0" y2="940.9" stroke="#404040" stroke-width="1.5"/>
<line x1="1046.8" y1="936.9" x2="1046.8" y2="940.9" stroke="#404040" stroke-width="1.5"/>
<line x1="1098.5" y1="936.9" x2="1098.5" y2="940.9" stroke="#404040" stroke-width="1.5"/>
<line x1="1150.3" y1="936.9" x2="1150.3" y2="940.9" stroke="#404040" stroke-width="1.5"/>
<line x1="1202.1" y1="936.9" x2="1202.1" y2="940.9" stroke="#404040" stroke-width="1.5"/>
<line x1="1253.9" y1="936.9" x2="1253.9" y2="940.9" stroke="#404040" stroke-width="1.5"/>
<line x1="1305.7" y1="936.9" x2="1305.7" y2="940.9" stroke="#404040" stroke-width="1.5"/>
<line x1="1357.5" y1="936.9" x2="1357.5" y2="940.9" stroke="#404040" stroke-width="1.5"/>
<text transform="translate(767.70,807.20) rotate(-90) scale(0.9992,1.1765)" font-size="17.00" font-weight="bold" font-family="Liberation Sans, sans-serif" fill="#111">CDR (%)</text>
<text transform="translate(1004.70,988.00) scale(1.0579,1.0000)" font-size="17.44" font-weight="bold" font-family="Liberation Sans, sans-serif" fill="#111">TIME (HOURS)</text>
<text transform="translate(1035.41,1039.00) scale(1.1763,1)" font-size="25.00" font-family="Liberation Serif, serif" fill="#000">(<tspan stroke="#000" stroke-width="0.55">d</tspan>)</text>
<clipPath id="clip4"><rect x="813.8" y="558.3" width="544.2" height="378.6"/></clipPath>
<g clip-path="url(#clip4)">
<polyline points="813.7,936.9 824.1,902.1 844.8,890.7 938.0,849.8 1051.9,824.8 1114.1,815.0 1186.6,795.3 1259.1,778.6 1331.6,765.8" fill="none" stroke="#2c2c7c" stroke-width="2.2" stroke-linejoin="round"/>
<rect x="806.9" y="930.8" width="13.6" height="12.2" fill="#0c0ce0"/>
<line x1="824.1" y1="890.7" x2="824.1" y2="913.4" stroke="#5a5a70" stroke-width="1.1"/>
<line x1="820.6" y1="890.7" x2="827.6" y2="890.7" stroke="#5a5a70" stroke-width="1.1"/>
<line x1="820.6" y1="913.4" x2="827.6" y2="913.4" stroke="#5a5a70" stroke-width="1.1"/>
<rect x="817.3" y="896.0" width="13.6" height="12.2" fill="#0c0ce0"/>
<line x1="844.8" y1="884.7" x2="844.8" y2="896.8" stroke="#5a5a70" stroke-width="1.1"/>
<line x1="841.3" y1="884.7" x2="848.3" y2="884.7" stroke="#5a5a70" stroke-width="1.1"/>
<line x1="841.3" y1="896.8" x2="848.3" y2="896.8" stroke="#5a5a70" stroke-width="1.1"/>
<rect x="838.0" y="884.6" width="13.6" height="12.2" fill="#0c0ce0"/>
<line x1="938.0" y1="840.0" x2="938.0" y2="859.7" stroke="#5a5a70" stroke-width="1.1"/>
<line x1="934.5" y1="840.0" x2="941.5" y2="840.0" stroke="#5a5a70" stroke-width="1.1"/>
<line x1="934.5" y1="859.7" x2="941.5" y2="859.7" stroke="#5a5a70" stroke-width="1.1"/>
<rect x="931.2" y="843.7" width="13.6" height="12.2" fill="#0c0ce0"/>
<line x1="1051.9" y1="818.8" x2="1051.9" y2="830.9" stroke="#5a5a70" stroke-width="1.1"/>
<line x1="1048.4" y1="818.8" x2="1055.4" y2="818.8" stroke="#5a5a70" stroke-width="1.1"/>
<line x1="1048.4" y1="830.9" x2="1055.4" y2="830.9" stroke="#5a5a70" stroke-width="1.1"/>
<rect x="1045.1" y="818.7" width="13.6" height="12.2" fill="#0c0ce0"/>
<line x1="1114.1" y1="808.9" x2="1114.1" y2="821.0" stroke="#5a5a70" stroke-width="1.1"/>
<line x1="1110.6" y1="808.9" x2="1117.6" y2="808.9" stroke="#5a5a70" stroke-width="1.1"/>
<line x1="1110.6" y1="821.0" x2="1117.6" y2="821.0" stroke="#5a5a70" stroke-width="1.1"/>
<rect x="1107.3" y="808.9" width="13.6" height="12.2" fill="#0c0ce0"/>
<line x1="1186.6" y1="787.7" x2="1186.6" y2="802.9" stroke="#5a5a70" stroke-width="1.1"/>
<line x1="1183.1" y1="787.7" x2="1190.1" y2="787.7" stroke="#5a5a70" stroke-width="1.1"/>
<line x1="1183.1" y1="802.9" x2="1190.1" y2="802.9" stroke="#5a5a70" stroke-width="1.1"/>
<rect x="1179.8" y="789.2" width="13.6" height="12.2" fill="#0c0ce0"/>
<line x1="1259.1" y1="772.6" x2="1259.1" y2="784.7" stroke="#5a5a70" stroke-width="1.1"/>
<line x1="1255.6" y1="772.6" x2="1262.6" y2="772.6" stroke="#5a5a70" stroke-width="1.1"/>
<line x1="1255.6" y1="784.7" x2="1262.6" y2="784.7" stroke="#5a5a70" stroke-width="1.1"/>
<rect x="1252.3" y="772.5" width="13.6" height="12.2" fill="#0c0ce0"/>
<line x1="1331.6" y1="761.2" x2="1331.6" y2="770.3" stroke="#5a5a70" stroke-width="1.1"/>
<line x1="1328.1" y1="761.2" x2="1335.1" y2="761.2" stroke="#5a5a70" stroke-width="1.1"/>
<line x1="1328.1" y1="770.3" x2="1335.1" y2="770.3" stroke="#5a5a70" stroke-width="1.1"/>
<rect x="1324.8" y="759.7" width="13.6" height="12.2" fill="#0c0ce0"/>
<polyline points="813.7,936.9 824.1,908.1 844.8,894.5 938.0,861.9 1051.9,833.2 1114.1,822.6 1186.6,813.5 1259.1,796.1 1331.6,784.7" fill="none" stroke="#d030d0" stroke-width="2.2" stroke-linejoin="round"/>
<ellipse cx="813.7" cy="936.9" rx="6.5" ry="6.5" fill="#f000f0"/>
<line x1="824.1" y1="897.5" x2="824.1" y2="918.7" stroke="#5a5a70" stroke-width="1.1"/>
<line x1="820.6" y1="897.5" x2="827.6" y2="897.5" stroke="#5a5a70" stroke-width="1.1"/>
<line x1="820.6" y1="918.7" x2="827.6" y2="918.7" stroke="#5a5a70" stroke-width="1.1"/>
<ellipse cx="824.1" cy="908.1" rx="6.5" ry="6.5" fill="#f000f0"/>
<line x1="844.8" y1="883.1" x2="844.8" y2="905.9" stroke="#5a5a70" stroke-width="1.1"/>
<line x1="841.3" y1="883.1" x2="848.3" y2="883.1" stroke="#5a5a70" stroke-width="1.1"/>
<line x1="841.3" y1="905.9" x2="848.3" y2="905.9" stroke="#5a5a70" stroke-width="1.1"/>
<ellipse cx="844.8" cy="894.5" rx="6.5" ry="6.5" fill="#f000f0"/>
<line x1="938.0" y1="852.9" x2="938.0" y2="871.0" stroke="#5a5a70" stroke-width="1.1"/>
<line x1="934.5" y1="852.9" x2="941.5" y2="852.9" stroke="#5a5a70" stroke-width="1.1"/>
<line x1="934.5" y1="871.0" x2="941.5" y2="871.0" stroke="#5a5a70" stroke-width="1.1"/>
<ellipse cx="938.0" cy="861.9" rx="6.5" ry="6.5" fill="#f000f0"/>
<line x1="1051.9" y1="819.5" x2="1051.9" y2="846.8" stroke="#5a5a70" stroke-width="1.1"/>
<line x1="1048.4" y1="819.5" x2="1055.4" y2="819.5" stroke="#5a5a70" stroke-width="1.1"/>
<line x1="1048.4" y1="846.8" x2="1055.4" y2="846.8" stroke="#5a5a70" stroke-width="1.1"/>
<ellipse cx="1051.9" cy="833.2" rx="6.5" ry="6.5" fill="#f000f0"/>
<line x1="1114.1" y1="812.7" x2="1114.1" y2="832.4" stroke="#5a5a70" stroke-width="1.1"/>
<line x1="1110.6" y1="812.7" x2="1117.6" y2="812.7" stroke="#5a5a70" stroke-width="1.1"/>
<line x1="1110.6" y1="832.4" x2="1117.6" y2="832.4" stroke="#5a5a70" stroke-width="1.1"/>
<ellipse cx="1114.1" cy="822.6" rx="6.5" ry="6.5" fill="#f000f0"/>
<line x1="1186.6" y1="803.6" x2="1186.6" y2="823.3" stroke="#5a5a70" stroke-width="1.1"/>
<line x1="1183.1" y1="803.6" x2="1190.1" y2="803.6" stroke="#5a5a70" stroke-width="1.1"/>
<line x1="1183.1" y1="823.3" x2="1190.1" y2="823.3" stroke="#5a5a70" stroke-width="1.1"/>
<ellipse cx="1186.6" cy="813.5" rx="6.5" ry="6.5" fill="#f000f0"/>
<line x1="1259.1" y1="788.5" x2="1259.1" y2="803.6" stroke="#5a5a70" stroke-width="1.1"/>
<line x1="1255.6" y1="788.5" x2="1262.6" y2="788.5" stroke="#5a5a70" stroke-width="1.1"/>
<line x1="1255.6" y1="803.6" x2="1262.6" y2="803.6" stroke="#5a5a70" stroke-width="1.1"/>
<ellipse cx="1259.1" cy="796.1" rx="6.5" ry="6.5" fill="#f000f0"/>
<line x1="1331.6" y1="774.9" x2="1331.6" y2="794.5" stroke="#5a5a70" stroke-width="1.1"/>
<line x1="1328.1" y1="774.9" x2="1335.1" y2="774.9" stroke="#5a5a70" stroke-width="1.1"/>
<line x1="1328.1" y1="794.5" x2="1335.1" y2="794.5" stroke="#5a5a70" stroke-width="1.1"/>
<ellipse cx="1331.6" cy="784.7" rx="6.5" ry="6.5" fill="#f000f0"/>
<polyline points="813.7,936.9 824.1,834.7 844.8,802.1 938.0,762.7 1051.9,731.7 1114.1,687.8 1186.6,645.4 1259.1,611.3 1331.6,585.6" fill="none" stroke="#2c2c7c" stroke-width="2.2" stroke-linejoin="round"/>
<polygon points="805.6,943.1 821.8,943.1 813.7,930.6" fill="#0c0ce0"/>
<line x1="824.1" y1="827.1" x2="824.1" y2="842.2" stroke="#5a5a70" stroke-width="1.1"/>
<line x1="820.6" y1="827.1" x2="827.6" y2="827.1" stroke="#5a5a70" stroke-width="1.1"/>
<line x1="820.6" y1="842.2" x2="827.6" y2="842.2" stroke="#5a5a70" stroke-width="1.1"/>
<polygon points="816.0,840.9 832.2,840.9 824.1,828.4" fill="#0c0ce0"/>
<line x1="844.8" y1="791.5" x2="844.8" y2="812.7" stroke="#5a5a70" stroke-width="1.1"/>
<line x1="841.3" y1="791.5" x2="848.3" y2="791.5" stroke="#5a5a70" stroke-width="1.1"/>
<line x1="841.3" y1="812.7" x2="848.3" y2="812.7" stroke="#5a5a70" stroke-width="1.1"/>
<polygon points="836.7,808.4 852.9,808.4 844.8,795.9" fill="#0c0ce0"/>
<line x1="938.0" y1="756.7" x2="938.0" y2="768.8" stroke="#5a5a70" stroke-width="1.1"/>
<line x1="934.5" y1="756.7" x2="941.5" y2="756.7" stroke="#5a5a70" stroke-width="1.1"/>
<line x1="934.5" y1="768.8" x2="941.5" y2="768.8" stroke="#5a5a70" stroke-width="1.1"/>
<polygon points="929.9,769.0 946.1,769.0 938.0,756.5" fill="#0c0ce0"/>
<line x1="1051.9" y1="718.1" x2="1051.9" y2="745.3" stroke="#5a5a70" stroke-width="1.1"/>
<line x1="1048.4" y1="718.1" x2="1055.4" y2="718.1" stroke="#5a5a70" stroke-width="1.1"/>
<line x1="1048.4" y1="745.3" x2="1055.4" y2="745.3" stroke="#5a5a70" stroke-width="1.1"/>
<polygon points="1043.8,737.9 1060.0,737.9 1051.9,725.4" fill="#0c0ce0"/>
<line x1="1114.1" y1="674.2" x2="1114.1" y2="701.4" stroke="#5a5a70" stroke-width="1.1"/>
<line x1="1110.6" y1="674.2" x2="1117.6" y2="674.2" stroke="#5a5a70" stroke-width="1.1"/>
<line x1="1110.6" y1="701.4" x2="1117.6" y2="701.4" stroke="#5a5a70" stroke-width="1.1"/>
<polygon points="1106.0,694.0 1122.2,694.0 1114.1,681.5" fill="#0c0ce0"/>
<line x1="1186.6" y1="640.8" x2="1186.6" y2="649.9" stroke="#5a5a70" stroke-width="1.1"/>
<line x1="1183.1" y1="640.8" x2="1190.1" y2="640.8" stroke="#5a5a70" stroke-width="1.1"/>
<line x1="1183.1" y1="649.9" x2="1190.1" y2="649.9" stroke="#5a5a70" stroke-width="1.1"/>
<polygon points="1178.5,651.6 1194.7,651.6 1186.6,639.1" fill="#0c0ce0"/>
<line x1="1259.1" y1="606.8" x2="1259.1" y2="615.8" stroke="#5a5a70" stroke-width="1.1"/>
<line x1="1255.6" y1="606.8" x2="1262.6" y2="606.8" stroke="#5a5a70" stroke-width="1.1"/>
<line x1="1255.6" y1="615.8" x2="1262.6" y2="615.8" stroke="#5a5a70" stroke-width="1.1"/>
<polygon points="1251.0,617.6 1267.2,617.6 1259.1,605.1" fill="#0c0ce0"/>
<line x1="1331.6" y1="578.0" x2="1331.6" y2="593.1" stroke="#5a5a70" stroke-width="1.1"/>
<line x1="1328.1" y1="578.0" x2="1335.1" y2="578.0" stroke="#5a5a70" stroke-width="1.1"/>
<line x1="1328.1" y1="593.1" x2="1335.1" y2="593.1" stroke="#5a5a70" stroke-width="1.1"/>
<polygon points="1323.5,591.8 1339.7,591.8 1331.6,579.3" fill="#0c0ce0"/>
<polyline points="813.7,936.9 824.1,826.3 844.8,806.7 938.0,791.5 1051.9,765.0 1114.1,746.8 1186.6,732.5 1259.1,711.3 1331.6,695.4" fill="none" stroke="#d030d0" stroke-width="2.2" stroke-linejoin="round"/>
<polygon points="805.6,930.6 821.8,930.6 813.7,943.1" fill="#f000f0"/>
<line x1="824.1" y1="818.8" x2="824.1" y2="833.9" stroke="#5a5a70" stroke-width="1.1"/>
<line x1="820.6" y1="818.8" x2="827.6" y2="818.8" stroke="#5a5a70" stroke-width="1.1"/>
<line x1="820.6" y1="833.9" x2="827.6" y2="833.9" stroke="#5a5a70" stroke-width="1.1"/>
<polygon points="816.0,820.1 832.2,820.1 824.1,832.6" fill="#f000f0"/>
<line x1="844.8" y1="799.1" x2="844.8" y2="814.2" stroke="#5a5a70" stroke-width="1.1"/>
<line x1="841.3" y1="799.1" x2="848.3" y2="799.1" stroke="#5a5a70" stroke-width="1.1"/>
<line x1="841.3" y1="814.2" x2="848.3" y2="814.2" stroke="#5a5a70" stroke-width="1.1"/>
<polygon points="836.7,800.4 852.9,800.4 844.8,812.9" fill="#f000f0"/>
<line x1="938.0" y1="785.5" x2="938.0" y2="797.6" stroke="#5a5a70" stroke-width="1.1"/>
<line x1="934.5" y1="785.5" x2="941.5" y2="785.5" stroke="#5a5a70" stroke-width="1.1"/>
<line x1="934.5" y1="797.6" x2="941.5" y2="797.6" stroke="#5a5a70" stroke-width="1.1"/>
<polygon points="929.9,785.3 946.1,785.3 938.0,797.8" fill="#f000f0"/>
<line x1="1051.9" y1="757.4" x2="1051.9" y2="772.6" stroke="#5a5a70" stroke-width="1.1"/>
<line x1="1048.4" y1="757.4" x2="1055.4" y2="757.4" stroke="#5a5a70" stroke-width="1.1"/>
<line x1="1048.4" y1="772.6" x2="1055.4" y2="772.6" stroke="#5a5a70" stroke-width="1.1"/>
<polygon points="1043.8,758.8 1060.0,758.8 1051.9,771.3" fill="#f000f0"/>
<line x1="1114.1" y1="737.8" x2="1114.1" y2="755.9" stroke="#5a5a70" stroke-width="1.1"/>
<line x1="1110.6" y1="737.8" x2="1117.6" y2="737.8" stroke="#5a5a70" stroke-width="1.1"/>
<line x1="1110.6" y1="755.9" x2="1117.6" y2="755.9" stroke="#5a5a70" stroke-width="1.1"/>
<polygon points="1106.0,740.6 1122.2,740.6 1114.1,753.1" fill="#f000f0"/>
<line x1="1186.6" y1="723.4" x2="1186.6" y2="741.5" stroke="#5a5a70" stroke-width="1.1"/>
<line x1="1183.1" y1="723.4" x2="1190.1" y2="723.4" stroke="#5a5a70" stroke-width="1.1"/>
<line x1="1183.1" y1="741.5" x2="1190.1" y2="741.5" stroke="#5a5a70" stroke-width="1.1"/>
<polygon points="1178.5,726.2 1194.7,726.2 1186.6,738.7" fill="#f000f0"/>
<line x1="1259.1" y1="705.2" x2="1259.1" y2="717.3" stroke="#5a5a70" stroke-width="1.1"/>
<line x1="1255.6" y1="705.2" x2="1262.6" y2="705.2" stroke="#5a5a70" stroke-width="1.1"/>
<line x1="1255.6" y1="717.3" x2="1262.6" y2="717.3" stroke="#5a5a70" stroke-width="1.1"/>
<polygon points="1251.0,705.0 1267.2,705.0 1259.1,717.5" fill="#f000f0"/>
<line x1="1331.6" y1="689.3" x2="1331.6" y2="701.4" stroke="#5a5a70" stroke-width="1.1"/>
<line x1="1328.1" y1="689.3" x2="1335.1" y2="689.3" stroke="#5a5a70" stroke-width="1.1"/>
<line x1="1328.1" y1="701.4" x2="1335.1" y2="701.4" stroke="#5a5a70" stroke-width="1.1"/>
<polygon points="1323.5,689.1 1339.7,689.1 1331.6,701.6" fill="#f000f0"/>
</g>
<rect x="817.7" y="563.3" width="304.4" height="83.6" fill="none" stroke="#8a8a8a" stroke-width="1.5"/>
<line x1="833.8" y1="581.1" x2="868.2" y2="581.1" stroke="#2c2c7c" stroke-width="2.0"/>
<rect x="845.0" y="576.2" width="12.0" height="9.8" fill="#0c0ce0"/>
<text transform="translate(872.51,586.20) scale(1.1179,1.0000)" font-size="12.94" font-weight="bold" font-family="Liberation Sans, sans-serif" fill="#111">GEF- PTXL-CSCaCO<tspan font-size="8.02" dy="3.88">3</tspan><tspan dy="-3.88">NP (GEF) 6.5</tspan></text>
<line x1="833.8" y1="601.0" x2="868.2" y2="601.0" stroke="#d040d0" stroke-width="2.0"/>
<ellipse cx="851.0" cy="601.0" rx="6.0" ry="5.2" fill="#f000f0"/>
<text transform="translate(872.51,606.10) scale(1.1173,1.0000)" font-size="12.94" font-weight="bold" font-family="Liberation Sans, sans-serif" fill="#111">GEF- PTXL-CSCaCO<tspan font-size="8.02" dy="3.88">3</tspan><tspan dy="-3.88">NP (PTXL) 6.5</tspan></text>
<line x1="833.8" y1="622.1" x2="868.2" y2="622.1" stroke="#2c2c7c" stroke-width="2.0"/>
<polygon points="843.8,625.1 858.2,625.1 851.0,615.1" fill="#0c0ce0"/>
<text transform="translate(872.51,626.50) scale(1.1159,1.0000)" font-size="12.94" font-weight="bold" font-family="Liberation Sans, sans-serif" fill="#111">GEF- PTXL (GEF) 6.5</text>
<line x1="833.8" y1="637.6" x2="868.2" y2="637.6" stroke="#d040d0" stroke-width="2.0"/>
<polygon points="843.8,634.6 858.2,634.6 851.0,644.6" fill="#f000f0"/>
<text transform="translate(872.51,642.50) scale(1.1194,1.0000)" font-size="12.94" font-weight="bold" font-family="Liberation Sans, sans-serif" fill="#111">GEF- PTXL (PTXL) 6.5</text>
<line x1="89.7" y1="1066.9" x2="643.2" y2="1066.9" stroke="#707070" stroke-width="1.8"/>
<line x1="643.2" y1="1066.9" x2="643.2" y2="1463.9" stroke="#404040" stroke-width="1.8"/>
<line x1="89.7" y1="1066.9" x2="89.7" y2="1463.9" stroke="#404040" stroke-width="1.8"/>
<line x1="89.7" y1="1463.9" x2="643.2" y2="1463.9" stroke="#404040" stroke-width="1.8"/>
<line x1="80.7" y1="1463.9" x2="89.7" y2="1463.9" stroke="#404040" stroke-width="1.7"/>
<text transform="translate(65.52,1468.72) scale(1.1600,1)" font-size="17.20" font-weight="bold" font-family="Liberation Sans, sans-serif" fill="#111">0</text>
<line x1="80.7" y1="1414.3" x2="89.7" y2="1414.3" stroke="#404040" stroke-width="1.7"/>
<text transform="translate(54.43,1419.09) scale(1.1600,1)" font-size="17.20" font-weight="bold" font-family="Liberation Sans, sans-serif" fill="#111">10</text>
<line x1="80.7" y1="1364.7" x2="89.7" y2="1364.7" stroke="#404040" stroke-width="1.7"/>
<text transform="translate(54.43,1369.47) scale(1.1600,1)" font-size="17.20" font-weight="bold" font-family="Liberation Sans, sans-serif" fill="#111">20</text>
<line x1="80.7" y1="1315.0" x2="89.7" y2="1315.0" stroke="#404040" stroke-width="1.7"/>
<text transform="translate(54.43,1319.83) scale(1.1600,1)" font-size="17.20" font-weight="bold" font-family="Liberation Sans, sans-serif" fill="#111">30</text>
<line x1="80.7" y1="1265.4" x2="89.7" y2="1265.4" stroke="#404040" stroke-width="1.7"/>
<text transform="translate(54.43,1270.22) scale(1.1600,1)" font-size="17.20" font-weight="bold" font-family="Liberation Sans, sans-serif" fill="#111">40</text>
<line x1="80.7" y1="1215.8" x2="89.7" y2="1215.8" stroke="#404040" stroke-width="1.7"/>
<text transform="translate(54.43,1220.59) scale(1.1600,1)" font-size="17.20" font-weight="bold" font-family="Liberation Sans, sans-serif" fill="#111">50</text>
<line x1="80.7" y1="1166.2" x2="89.7" y2="1166.2" stroke="#404040" stroke-width="1.7"/>
<text transform="translate(54.43,1170.97) scale(1.1600,1)" font-size="17.20" font-weight="bold" font-family="Liberation Sans, sans-serif" fill="#111">60</text>
<line x1="80.7" y1="1116.5" x2="89.7" y2="1116.5" stroke="#404040" stroke-width="1.7"/>
<text transform="translate(54.43,1121.34) scale(1.1600,1)" font-size="17.20" font-weight="bold" font-family="Liberation Sans, sans-serif" fill="#111">70</text>
<line x1="80.7" y1="1066.9" x2="89.7" y2="1066.9" stroke="#404040" stroke-width="1.7"/>
<text transform="translate(54.43,1071.72) scale(1.1600,1)" font-size="17.20" font-weight="bold" font-family="Liberation Sans, sans-serif" fill="#111">80</text>
<line x1="84.7" y1="1439.1" x2="89.7" y2="1439.1" stroke="#404040" stroke-width="1.5"/>
<line x1="84.7" y1="1389.5" x2="89.7" y2="1389.5" stroke="#404040" stroke-width="1.5"/>
<line x1="84.7" y1="1339.8" x2="89.7" y2="1339.8" stroke="#404040" stroke-width="1.5"/>
<line x1="84.7" y1="1290.2" x2="89.7" y2="1290.2" stroke="#404040" stroke-width="1.5"/>
<line x1="84.7" y1="1240.6" x2="89.7" y2="1240.6" stroke="#404040" stroke-width="1.5"/>
<line x1="84.7" y1="1191.0" x2="89.7" y2="1191.0" stroke="#404040" stroke-width="1.5"/>
<line x1="84.7" y1="1141.3" x2="89.7" y2="1141.3" stroke="#404040" stroke-width="1.5"/>
<line x1="84.7" y1="1091.7" x2="89.7" y2="1091.7" stroke="#404040" stroke-width="1.5"/>
<line x1="89.5" y1="1463.9" x2="89.5" y2="1471.4" stroke="#404040" stroke-width="1.7"/>
<text transform="translate(84.15,1489.12) scale(1.1200,1)" font-size="17.20" font-weight="bold" font-family="Liberation Sans, sans-serif" fill="#111">0</text>
<line x1="142.3" y1="1463.9" x2="142.3" y2="1471.4" stroke="#404040" stroke-width="1.7"/>
<text transform="translate(131.34,1489.12) scale(1.1200,1)" font-size="17.20" font-weight="bold" font-family="Liberation Sans, sans-serif" fill="#111">10</text>
<line x1="195.0" y1="1463.9" x2="195.0" y2="1471.4" stroke="#404040" stroke-width="1.7"/>
<text transform="translate(184.37,1489.12) scale(1.1200,1)" font-size="17.20" font-weight="bold" font-family="Liberation Sans, sans-serif" fill="#111">20</text>
<line x1="247.8" y1="1463.9" x2="247.8" y2="1471.4" stroke="#404040" stroke-width="1.7"/>
<text transform="translate(237.24,1489.11) scale(1.1200,1)" font-size="17.20" font-weight="bold" font-family="Liberation Sans, sans-serif" fill="#111">30</text>
<line x1="300.5" y1="1463.9" x2="300.5" y2="1471.4" stroke="#404040" stroke-width="1.7"/>
<text transform="translate(290.08,1489.12) scale(1.1200,1)" font-size="17.20" font-weight="bold" font-family="Liberation Sans, sans-serif" fill="#111">40</text>
<line x1="353.3" y1="1463.9" x2="353.3" y2="1471.4" stroke="#404040" stroke-width="1.7"/>
<text transform="translate(342.69,1489.12) scale(1.1200,1)" font-size="17.20" font-weight="bold" font-family="Liberation Sans, sans-serif" fill="#111">50</text>
<line x1="406.1" y1="1463.9" x2="406.1" y2="1471.4" stroke="#404040" stroke-width="1.7"/>
<text transform="translate(395.39,1489.12) scale(1.1200,1)" font-size="17.20" font-weight="bold" font-family="Liberation Sans, sans-serif" fill="#111">60</text>
<line x1="458.8" y1="1463.9" x2="458.8" y2="1471.4" stroke="#404040" stroke-width="1.7"/>
<text transform="translate(448.09,1489.12) scale(1.1200,1)" font-size="17.20" font-weight="bold" font-family="Liberation Sans, sans-serif" fill="#111">70</text>
<line x1="511.6" y1="1463.9" x2="511.6" y2="1471.4" stroke="#404040" stroke-width="1.7"/>
<text transform="translate(500.96,1489.12) scale(1.1200,1)" font-size="17.20" font-weight="bold" font-family="Liberation Sans, sans-serif" fill="#111">80</text>
<line x1="564.3" y1="1463.9" x2="564.3" y2="1471.4" stroke="#404040" stroke-width="1.7"/>
<text transform="translate(553.69,1489.12) scale(1.1200,1)" font-size="17.20" font-weight="bold" font-family="Liberation Sans, sans-serif" fill="#111">90</text>
<line x1="617.1" y1="1463.9" x2="617.1" y2="1471.4" stroke="#404040" stroke-width="1.7"/>
<text transform="translate(600.82,1489.12) scale(1.1200,1)" font-size="17.20" font-weight="bold" font-family="Liberation Sans, sans-serif" fill="#111">100</text>
<line x1="115.9" y1="1463.9" x2="115.9" y2="1467.9" stroke="#404040" stroke-width="1.5"/>
<line x1="168.6" y1="1463.9" x2="168.6" y2="1467.9" stroke="#404040" stroke-width="1.5"/>
<line x1="221.4" y1="1463.9" x2="221.4" y2="1467.9" stroke="#404040" stroke-width="1.5"/>
<line x1="274.2" y1="1463.9" x2="274.2" y2="1467.9" stroke="#404040" stroke-width="1.5"/>
<line x1="326.9" y1="1463.9" x2="326.9" y2="1467.9" stroke="#404040" stroke-width="1.5"/>
<line x1="379.7" y1="1463.9" x2="379.7" y2="1467.9" stroke="#404040" stroke-width="1.5"/>
<line x1="432.4" y1="1463.9" x2="432.4" y2="1467.9" stroke="#404040" stroke-width="1.5"/>
<line x1="485.2" y1="1463.9" x2="485.2" y2="1467.9" stroke="#404040" stroke-width="1.5"/>
<line x1="538.0" y1="1463.9" x2="538.0" y2="1467.9" stroke="#404040" stroke-width="1.5"/>
<line x1="590.7" y1="1463.9" x2="590.7" y2="1467.9" stroke="#404040" stroke-width="1.5"/>
<line x1="643.5" y1="1463.9" x2="643.5" y2="1467.9" stroke="#404040" stroke-width="1.5"/>
<text transform="translate(37.50,1347.14) rotate(-90) scale(1.0364,1.1714)" font-size="17.50" font-weight="bold" font-family="Liberation Sans, sans-serif" fill="#111">CDR (%)</text>
<text transform="translate(332.09,1520.70) scale(1.0257,1.0000)" font-size="18.31" font-weight="bold" font-family="Liberation Sans, sans-serif" fill="#111">TIME (HOURS)</text>
<text transform="translate(314.48,1561.50) scale(1.1115,1)" font-size="25.00" font-family="Liberation Serif, serif" fill="#000">(<tspan stroke="#000" stroke-width="0.55">e</tspan>)</text>
<clipPath id="clip5"><rect x="89.7" y="1066.9" width="553.5" height="397.0"/></clipPath>
<g clip-path="url(#clip5)">
<polyline points="89.5,1463.9 100.1,1446.0 121.2,1441.1 216.1,1427.2 332.2,1408.3 395.5,1390.0 469.4,1373.1 543.2,1354.7 617.1,1336.4" fill="none" stroke="#2c2c7c" stroke-width="2.2" stroke-linejoin="round"/>
<rect x="82.7" y="1457.8" width="13.6" height="12.2" fill="#0c0ce0"/>
<line x1="100.1" y1="1441.1" x2="100.1" y2="1451.0" stroke="#5a5a70" stroke-width="1.1"/>
<line x1="96.6" y1="1441.1" x2="103.6" y2="1441.1" stroke="#5a5a70" stroke-width="1.1"/>
<line x1="96.6" y1="1451.0" x2="103.6" y2="1451.0" stroke="#5a5a70" stroke-width="1.1"/>
<rect x="93.3" y="1439.9" width="13.6" height="12.2" fill="#0c0ce0"/>
<line x1="121.2" y1="1436.1" x2="121.2" y2="1446.0" stroke="#5a5a70" stroke-width="1.1"/>
<line x1="117.7" y1="1436.1" x2="124.7" y2="1436.1" stroke="#5a5a70" stroke-width="1.1"/>
<line x1="117.7" y1="1446.0" x2="124.7" y2="1446.0" stroke="#5a5a70" stroke-width="1.1"/>
<rect x="114.4" y="1435.0" width="13.6" height="12.2" fill="#0c0ce0"/>
<line x1="216.1" y1="1417.3" x2="216.1" y2="1437.1" stroke="#5a5a70" stroke-width="1.1"/>
<line x1="212.6" y1="1417.3" x2="219.6" y2="1417.3" stroke="#5a5a70" stroke-width="1.1"/>
<line x1="212.6" y1="1437.1" x2="219.6" y2="1437.1" stroke="#5a5a70" stroke-width="1.1"/>
<rect x="209.3" y="1421.1" width="13.6" height="12.2" fill="#0c0ce0"/>
<line x1="332.2" y1="1399.4" x2="332.2" y2="1417.3" stroke="#5a5a70" stroke-width="1.1"/>
<line x1="328.7" y1="1399.4" x2="335.7" y2="1399.4" stroke="#5a5a70" stroke-width="1.1"/>
<line x1="328.7" y1="1417.3" x2="335.7" y2="1417.3" stroke="#5a5a70" stroke-width="1.1"/>
<rect x="325.4" y="1402.2" width="13.6" height="12.2" fill="#0c0ce0"/>
<line x1="395.5" y1="1382.5" x2="395.5" y2="1397.4" stroke="#5a5a70" stroke-width="1.1"/>
<line x1="392.0" y1="1382.5" x2="399.0" y2="1382.5" stroke="#5a5a70" stroke-width="1.1"/>
<line x1="392.0" y1="1397.4" x2="399.0" y2="1397.4" stroke="#5a5a70" stroke-width="1.1"/>
<rect x="388.7" y="1383.9" width="13.6" height="12.2" fill="#0c0ce0"/>
<line x1="469.4" y1="1365.6" x2="469.4" y2="1380.5" stroke="#5a5a70" stroke-width="1.1"/>
<line x1="465.9" y1="1365.6" x2="472.9" y2="1365.6" stroke="#5a5a70" stroke-width="1.1"/>
<line x1="465.9" y1="1380.5" x2="472.9" y2="1380.5" stroke="#5a5a70" stroke-width="1.1"/>
<rect x="462.6" y="1367.0" width="13.6" height="12.2" fill="#0c0ce0"/>
<line x1="543.2" y1="1351.7" x2="543.2" y2="1357.7" stroke="#5a5a70" stroke-width="1.1"/>
<line x1="539.7" y1="1351.7" x2="546.7" y2="1351.7" stroke="#5a5a70" stroke-width="1.1"/>
<line x1="539.7" y1="1357.7" x2="546.7" y2="1357.7" stroke="#5a5a70" stroke-width="1.1"/>
<rect x="536.4" y="1348.6" width="13.6" height="12.2" fill="#0c0ce0"/>
<line x1="617.1" y1="1333.4" x2="617.1" y2="1339.3" stroke="#5a5a70" stroke-width="1.1"/>
<line x1="613.6" y1="1333.4" x2="620.6" y2="1333.4" stroke="#5a5a70" stroke-width="1.1"/>
<line x1="613.6" y1="1339.3" x2="620.6" y2="1339.3" stroke="#5a5a70" stroke-width="1.1"/>
<rect x="610.3" y="1330.3" width="13.6" height="12.2" fill="#0c0ce0"/>
<polyline points="89.5,1463.9 100.1,1444.1 121.2,1439.1 216.1,1423.7 332.2,1412.3 395.5,1399.9 469.4,1391.0 543.2,1376.1 617.1,1353.2" fill="none" stroke="#d030d0" stroke-width="2.2" stroke-linejoin="round"/>
<ellipse cx="89.5" cy="1463.9" rx="6.5" ry="6.5" fill="#f000f0"/>
<line x1="100.1" y1="1439.1" x2="100.1" y2="1449.0" stroke="#5a5a70" stroke-width="1.1"/>
<line x1="96.6" y1="1439.1" x2="103.6" y2="1439.1" stroke="#5a5a70" stroke-width="1.1"/>
<line x1="96.6" y1="1449.0" x2="103.6" y2="1449.0" stroke="#5a5a70" stroke-width="1.1"/>
<ellipse cx="100.1" cy="1444.1" rx="6.5" ry="6.5" fill="#f000f0"/>
<line x1="121.2" y1="1429.2" x2="121.2" y2="1449.0" stroke="#5a5a70" stroke-width="1.1"/>
<line x1="117.7" y1="1429.2" x2="124.7" y2="1429.2" stroke="#5a5a70" stroke-width="1.1"/>
<line x1="117.7" y1="1449.0" x2="124.7" y2="1449.0" stroke="#5a5a70" stroke-width="1.1"/>
<ellipse cx="121.2" cy="1439.1" rx="6.5" ry="6.5" fill="#f000f0"/>
<line x1="216.1" y1="1418.7" x2="216.1" y2="1428.7" stroke="#5a5a70" stroke-width="1.1"/>
<line x1="212.6" y1="1418.7" x2="219.6" y2="1418.7" stroke="#5a5a70" stroke-width="1.1"/>
<line x1="212.6" y1="1428.7" x2="219.6" y2="1428.7" stroke="#5a5a70" stroke-width="1.1"/>
<ellipse cx="216.1" cy="1423.7" rx="6.5" ry="6.5" fill="#f000f0"/>
<line x1="332.2" y1="1407.3" x2="332.2" y2="1417.3" stroke="#5a5a70" stroke-width="1.1"/>
<line x1="328.7" y1="1407.3" x2="335.7" y2="1407.3" stroke="#5a5a70" stroke-width="1.1"/>
<line x1="328.7" y1="1417.3" x2="335.7" y2="1417.3" stroke="#5a5a70" stroke-width="1.1"/>
<ellipse cx="332.2" cy="1412.3" rx="6.5" ry="6.5" fill="#f000f0"/>
<line x1="395.5" y1="1395.9" x2="395.5" y2="1403.9" stroke="#5a5a70" stroke-width="1.1"/>
<line x1="392.0" y1="1395.9" x2="399.0" y2="1395.9" stroke="#5a5a70" stroke-width="1.1"/>
<line x1="392.0" y1="1403.9" x2="399.0" y2="1403.9" stroke="#5a5a70" stroke-width="1.1"/>
<ellipse cx="395.5" cy="1399.9" rx="6.5" ry="6.5" fill="#f000f0"/>
<line x1="469.4" y1="1386.0" x2="469.4" y2="1395.9" stroke="#5a5a70" stroke-width="1.1"/>
<line x1="465.9" y1="1386.0" x2="472.9" y2="1386.0" stroke="#5a5a70" stroke-width="1.1"/>
<line x1="465.9" y1="1395.9" x2="472.9" y2="1395.9" stroke="#5a5a70" stroke-width="1.1"/>
<ellipse cx="469.4" cy="1391.0" rx="6.5" ry="6.5" fill="#f000f0"/>
<line x1="543.2" y1="1372.1" x2="543.2" y2="1380.0" stroke="#5a5a70" stroke-width="1.1"/>
<line x1="539.7" y1="1372.1" x2="546.7" y2="1372.1" stroke="#5a5a70" stroke-width="1.1"/>
<line x1="539.7" y1="1380.0" x2="546.7" y2="1380.0" stroke="#5a5a70" stroke-width="1.1"/>
<ellipse cx="543.2" cy="1376.1" rx="6.5" ry="6.5" fill="#f000f0"/>
<line x1="617.1" y1="1350.3" x2="617.1" y2="1356.2" stroke="#5a5a70" stroke-width="1.1"/>
<line x1="613.6" y1="1350.3" x2="620.6" y2="1350.3" stroke="#5a5a70" stroke-width="1.1"/>
<line x1="613.6" y1="1356.2" x2="620.6" y2="1356.2" stroke="#5a5a70" stroke-width="1.1"/>
<ellipse cx="617.1" cy="1353.2" rx="6.5" ry="6.5" fill="#f000f0"/>
<polyline points="89.5,1463.9 100.1,1389.0 121.2,1318.0 216.1,1295.7 332.2,1257.0 395.5,1219.7 469.4,1185.5 543.2,1136.9 617.1,1103.1" fill="none" stroke="#2c2c7c" stroke-width="2.2" stroke-linejoin="round"/>
<polygon points="81.4,1470.2 97.6,1470.2 89.5,1457.7" fill="#0c0ce0"/>
<line x1="100.1" y1="1385.0" x2="100.1" y2="1392.9" stroke="#5a5a70" stroke-width="1.1"/>
<line x1="96.6" y1="1385.0" x2="103.6" y2="1385.0" stroke="#5a5a70" stroke-width="1.1"/>
<line x1="96.6" y1="1392.9" x2="103.6" y2="1392.9" stroke="#5a5a70" stroke-width="1.1"/>
<polygon points="92.0,1395.2 108.2,1395.2 100.1,1382.7" fill="#0c0ce0"/>
<line x1="121.2" y1="1314.0" x2="121.2" y2="1322.0" stroke="#5a5a70" stroke-width="1.1"/>
<line x1="117.7" y1="1314.0" x2="124.7" y2="1314.0" stroke="#5a5a70" stroke-width="1.1"/>
<line x1="117.7" y1="1322.0" x2="124.7" y2="1322.0" stroke="#5a5a70" stroke-width="1.1"/>
<polygon points="113.1,1324.3 129.3,1324.3 121.2,1311.8" fill="#0c0ce0"/>
<line x1="216.1" y1="1291.7" x2="216.1" y2="1299.6" stroke="#5a5a70" stroke-width="1.1"/>
<line x1="212.6" y1="1291.7" x2="219.6" y2="1291.7" stroke="#5a5a70" stroke-width="1.1"/>
<line x1="212.6" y1="1299.6" x2="219.6" y2="1299.6" stroke="#5a5a70" stroke-width="1.1"/>
<polygon points="208.0,1301.9 224.2,1301.9 216.1,1289.4" fill="#0c0ce0"/>
<line x1="332.2" y1="1252.0" x2="332.2" y2="1261.9" stroke="#5a5a70" stroke-width="1.1"/>
<line x1="328.7" y1="1252.0" x2="335.7" y2="1252.0" stroke="#5a5a70" stroke-width="1.1"/>
<line x1="328.7" y1="1261.9" x2="335.7" y2="1261.9" stroke="#5a5a70" stroke-width="1.1"/>
<polygon points="324.1,1263.2 340.3,1263.2 332.2,1250.7" fill="#0c0ce0"/>
<line x1="395.5" y1="1215.8" x2="395.5" y2="1223.7" stroke="#5a5a70" stroke-width="1.1"/>
<line x1="392.0" y1="1215.8" x2="399.0" y2="1215.8" stroke="#5a5a70" stroke-width="1.1"/>
<line x1="392.0" y1="1223.7" x2="399.0" y2="1223.7" stroke="#5a5a70" stroke-width="1.1"/>
<polygon points="387.4,1226.0 403.6,1226.0 395.5,1213.5" fill="#0c0ce0"/>
<line x1="469.4" y1="1178.1" x2="469.4" y2="1192.9" stroke="#5a5a70" stroke-width="1.1"/>
<line x1="465.9" y1="1178.1" x2="472.9" y2="1178.1" stroke="#5a5a70" stroke-width="1.1"/>
<line x1="465.9" y1="1192.9" x2="472.9" y2="1192.9" stroke="#5a5a70" stroke-width="1.1"/>
<polygon points="461.3,1191.8 477.5,1191.8 469.4,1179.3" fill="#0c0ce0"/>
<line x1="543.2" y1="1132.9" x2="543.2" y2="1140.8" stroke="#5a5a70" stroke-width="1.1"/>
<line x1="539.7" y1="1132.9" x2="546.7" y2="1132.9" stroke="#5a5a70" stroke-width="1.1"/>
<line x1="539.7" y1="1140.8" x2="546.7" y2="1140.8" stroke="#5a5a70" stroke-width="1.1"/>
<polygon points="535.1,1143.1 551.3,1143.1 543.2,1130.6" fill="#0c0ce0"/>
<line x1="617.1" y1="1100.1" x2="617.1" y2="1106.1" stroke="#5a5a70" stroke-width="1.1"/>
<line x1="613.6" y1="1100.1" x2="620.6" y2="1100.1" stroke="#5a5a70" stroke-width="1.1"/>
<line x1="613.6" y1="1106.1" x2="620.6" y2="1106.1" stroke="#5a5a70" stroke-width="1.1"/>
<polygon points="609.0,1109.4 625.2,1109.4 617.1,1096.9" fill="#0c0ce0"/>
<polyline points="89.5,1463.9 100.1,1396.4 121.2,1391.4 216.1,1369.6 332.2,1357.2 395.5,1341.3 469.4,1324.0 543.2,1307.1 617.1,1291.2" fill="none" stroke="#d030d0" stroke-width="2.2" stroke-linejoin="round"/>
<polygon points="81.4,1457.7 97.6,1457.7 89.5,1470.2" fill="#f000f0"/>
<line x1="100.1" y1="1392.4" x2="100.1" y2="1400.4" stroke="#5a5a70" stroke-width="1.1"/>
<line x1="96.6" y1="1392.4" x2="103.6" y2="1392.4" stroke="#5a5a70" stroke-width="1.1"/>
<line x1="96.6" y1="1400.4" x2="103.6" y2="1400.4" stroke="#5a5a70" stroke-width="1.1"/>
<polygon points="92.0,1390.2 108.2,1390.2 100.1,1402.7" fill="#f000f0"/>
<line x1="121.2" y1="1387.5" x2="121.2" y2="1395.4" stroke="#5a5a70" stroke-width="1.1"/>
<line x1="117.7" y1="1387.5" x2="124.7" y2="1387.5" stroke="#5a5a70" stroke-width="1.1"/>
<line x1="117.7" y1="1395.4" x2="124.7" y2="1395.4" stroke="#5a5a70" stroke-width="1.1"/>
<polygon points="113.1,1385.2 129.3,1385.2 121.2,1397.7" fill="#f000f0"/>
<line x1="216.1" y1="1365.6" x2="216.1" y2="1373.6" stroke="#5a5a70" stroke-width="1.1"/>
<line x1="212.6" y1="1365.6" x2="219.6" y2="1365.6" stroke="#5a5a70" stroke-width="1.1"/>
<line x1="212.6" y1="1373.6" x2="219.6" y2="1373.6" stroke="#5a5a70" stroke-width="1.1"/>
<polygon points="208.0,1363.4 224.2,1363.4 216.1,1375.9" fill="#f000f0"/>
<line x1="332.2" y1="1353.2" x2="332.2" y2="1361.2" stroke="#5a5a70" stroke-width="1.1"/>
<line x1="328.7" y1="1353.2" x2="335.7" y2="1353.2" stroke="#5a5a70" stroke-width="1.1"/>
<line x1="328.7" y1="1361.2" x2="335.7" y2="1361.2" stroke="#5a5a70" stroke-width="1.1"/>
<polygon points="324.1,1351.0 340.3,1351.0 332.2,1363.5" fill="#f000f0"/>
<line x1="395.5" y1="1337.4" x2="395.5" y2="1345.3" stroke="#5a5a70" stroke-width="1.1"/>
<line x1="392.0" y1="1337.4" x2="399.0" y2="1337.4" stroke="#5a5a70" stroke-width="1.1"/>
<line x1="392.0" y1="1345.3" x2="399.0" y2="1345.3" stroke="#5a5a70" stroke-width="1.1"/>
<polygon points="387.4,1335.1 403.6,1335.1 395.5,1347.6" fill="#f000f0"/>
<line x1="469.4" y1="1316.0" x2="469.4" y2="1331.9" stroke="#5a5a70" stroke-width="1.1"/>
<line x1="465.9" y1="1316.0" x2="472.9" y2="1316.0" stroke="#5a5a70" stroke-width="1.1"/>
<line x1="465.9" y1="1331.9" x2="472.9" y2="1331.9" stroke="#5a5a70" stroke-width="1.1"/>
<polygon points="461.3,1317.7 477.5,1317.7 469.4,1330.2" fill="#f000f0"/>
<line x1="543.2" y1="1303.1" x2="543.2" y2="1311.1" stroke="#5a5a70" stroke-width="1.1"/>
<line x1="539.7" y1="1303.1" x2="546.7" y2="1303.1" stroke="#5a5a70" stroke-width="1.1"/>
<line x1="539.7" y1="1311.1" x2="546.7" y2="1311.1" stroke="#5a5a70" stroke-width="1.1"/>
<polygon points="535.1,1300.8 551.3,1300.8 543.2,1313.3" fill="#f000f0"/>
<line x1="617.1" y1="1288.2" x2="617.1" y2="1294.2" stroke="#5a5a70" stroke-width="1.1"/>
<line x1="613.6" y1="1288.2" x2="620.6" y2="1288.2" stroke="#5a5a70" stroke-width="1.1"/>
<line x1="613.6" y1="1294.2" x2="620.6" y2="1294.2" stroke="#5a5a70" stroke-width="1.1"/>
<polygon points="609.0,1285.0 625.2,1285.0 617.1,1297.5" fill="#f000f0"/>
</g>
<rect x="98.1" y="1073.7" width="355.1" height="98.7" fill="none" stroke="#8a8a8a" stroke-width="1.5"/>
<line x1="109.4" y1="1089.4" x2="152.4" y2="1089.4" stroke="#2c2c7c" stroke-width="2.0"/>
<rect x="125.8" y="1084.4" width="11.0" height="10.0" fill="#0c0ce0"/>
<text transform="translate(157.46,1095.40) scale(1.1490,1.0000)" font-size="15.70" font-weight="bold" font-family="Liberation Sans, sans-serif" fill="#111">GEF-PTXL-CSCaCO<tspan font-size="9.73" dy="4.71">3</tspan><tspan dy="-4.71">NP (GEF) 5.6</tspan></text>
<line x1="109.4" y1="1115.5" x2="152.4" y2="1115.5" stroke="#d040d0" stroke-width="2.0"/>
<ellipse cx="131.3" cy="1115.5" rx="6.2" ry="5.5" fill="#f000f0"/>
<text transform="translate(157.46,1121.50) scale(1.1525,1.0000)" font-size="15.70" font-weight="bold" font-family="Liberation Sans, sans-serif" fill="#111">GEF-PTXL-CSCaCO<tspan font-size="9.73" dy="4.71">3</tspan><tspan dy="-4.71">NP (PTXL) 5.6</tspan></text>
<line x1="109.4" y1="1141.1" x2="152.4" y2="1141.1" stroke="#2c2c7c" stroke-width="2.0"/>
<polygon points="124.1,1144.6 138.5,1144.6 131.3,1134.6" fill="#0c0ce0"/>
<text transform="translate(157.47,1146.90) scale(1.1413,1.0000)" font-size="15.70" font-weight="bold" font-family="Liberation Sans, sans-serif" fill="#111">GEF-PTXL (GEF) 5.6</text>
<line x1="109.4" y1="1160.7" x2="152.4" y2="1160.7" stroke="#d040d0" stroke-width="2.0"/>
<polygon points="124.1,1157.2 138.5,1157.2 131.3,1167.2" fill="#f000f0"/>
<text transform="translate(157.45,1167.20) scale(1.1587,1.0000)" font-size="15.70" font-weight="bold" font-family="Liberation Sans, sans-serif" fill="#111">GEF-PTXL (PTXL) 5.6</text>
<clipPath id="fclipL"><rect x="797.6" y="1264" width="577" height="191.6"/></clipPath><clipPath id="fclipU"><rect x="797.6" y="1065.9" width="577" height="191.1"/></clipPath>
<g clip-path="url(#fclipL)">
<polyline points="798.2,1455.4 821.3,1421.8 867.4,1361.4 913.5,1420.1 1351.5,1445.2" fill="none" stroke="#111" stroke-width="1.9" stroke-linejoin="round" stroke-dasharray="9,8"/>
</g>
<g clip-path="url(#fclipL)">
<rect x="815.8" y="1416.8" width="11.0" height="10.0" fill="#000000"/>
<rect x="861.9" y="1356.4" width="11.0" height="10.0" fill="#000000"/>
<rect x="908.0" y="1415.1" width="11.0" height="10.0" fill="#000000"/>
<rect x="1346.0" y="1440.2" width="11.0" height="10.0" fill="#000000"/>
</g>
<g clip-path="url(#fclipL)">
<polyline points="798.2,1455.4 821.3,1313.8 867.4,1377.6 913.5,1402.7 1351.5,1413.7" fill="none" stroke="#d838d8" stroke-width="2.0" stroke-linejoin="round" stroke-dasharray="9,8"/>
</g>
<g clip-path="url(#fclipL)">
<rect x="815.8" y="1308.8" width="11.0" height="10.0" fill="#f818f0"/>
<rect x="861.9" y="1372.6" width="11.0" height="10.0" fill="#f818f0"/>
<rect x="908.0" y="1397.7" width="11.0" height="10.0" fill="#f818f0"/>
<rect x="1346.0" y="1408.7" width="11.0" height="10.0" fill="#f818f0"/>
</g>
<g clip-path="url(#fclipL)">
<polyline points="798.2,1455.4 821.3,1310.4 867.4,1288.7 913.5,1308.7 1351.5,1353.8" fill="none" stroke="#6424c4" stroke-width="2.0" stroke-linejoin="round" stroke-dasharray="9,8"/>
</g>
<g clip-path="url(#fclipL)">
<rect x="815.8" y="1305.4" width="11.0" height="10.0" fill="#7a08f8"/>
<rect x="861.9" y="1283.7" width="11.0" height="10.0" fill="#7a08f8"/>
<rect x="908.0" y="1303.7" width="11.0" height="10.0" fill="#7a08f8"/>
<rect x="1346.0" y="1348.8" width="11.0" height="10.0" fill="#7a08f8"/>
</g>
<g clip-path="url(#fclipL)">
<polyline points="798.2,1455.4 821.3,1384.8 867.4,1382.7 913.5,1409.0 1351.5,1433.7" fill="none" stroke="#111" stroke-width="2.0" stroke-linejoin="round"/>
</g>
<g clip-path="url(#fclipL)">
<polygon points="814.5,1380.1 828.0,1380.1 821.3,1389.6" fill="#000000"/>
<polygon points="860.6,1377.9 874.1,1377.9 867.4,1387.4" fill="#000000"/>
<polygon points="906.7,1404.3 920.2,1404.3 913.5,1413.8" fill="#000000"/>
<line x1="1351.5" y1="1428.3" x2="1351.5" y2="1439.1" stroke="#555" stroke-width="1.1"/>
<line x1="1348.0" y1="1428.3" x2="1355.0" y2="1428.3" stroke="#555" stroke-width="1.1"/>
<line x1="1348.0" y1="1439.1" x2="1355.0" y2="1439.1" stroke="#555" stroke-width="1.1"/>
<polygon points="1344.8,1429.0 1358.3,1429.0 1351.5,1438.5" fill="#000000"/>
</g>
<g clip-path="url(#fclipL)">
<polyline points="798.2,1455.4 821.3,1386.5 867.4,1272.5 913.5,1277.2 1351.5,1275.1" fill="none" stroke="#d838d8" stroke-width="2.2" stroke-linejoin="round"/>
</g>
<g clip-path="url(#fclipL)">
<polygon points="814.5,1381.8 828.0,1381.8 821.3,1391.3" fill="#f818f0"/>
<polygon points="860.6,1267.8 874.1,1267.8 867.4,1277.3" fill="#f818f0"/>
<polygon points="906.7,1272.5 920.2,1272.5 913.5,1282.0" fill="#f818f0"/>
<polygon points="1344.8,1270.3 1358.3,1270.3 1351.5,1279.8" fill="#f818f0"/>
</g>
<g clip-path="url(#fclipL)">
<polyline points="798.2,1455.4 821.3,1252.5" fill="none" stroke="#6424c4" stroke-width="2.4" stroke-linejoin="round"/>
</g><g clip-path="url(#fclipU)">
<polyline points="798.2,1455.4 821.3,1252.5 867.4,1186.3 913.5,1218.8 1351.5,1198.3" fill="none" stroke="#6424c4" stroke-width="2.4" stroke-linejoin="round"/>
</g>
<g clip-path="url(#fclipU)">
<line x1="821.3" y1="1242.1" x2="821.3" y2="1263.0" stroke="#555" stroke-width="1.1"/>
<line x1="817.8" y1="1242.1" x2="824.8" y2="1242.1" stroke="#555" stroke-width="1.1"/>
<line x1="817.8" y1="1263.0" x2="824.8" y2="1263.0" stroke="#555" stroke-width="1.1"/>
<polygon points="814.5,1247.8 828.0,1247.8 821.3,1257.3" fill="#7a08f8"/>
<line x1="867.4" y1="1175.3" x2="867.4" y2="1197.3" stroke="#555" stroke-width="1.1"/>
<line x1="863.9" y1="1175.3" x2="870.9" y2="1175.3" stroke="#555" stroke-width="1.1"/>
<line x1="863.9" y1="1197.3" x2="870.9" y2="1197.3" stroke="#555" stroke-width="1.1"/>
<polygon points="860.6,1181.6 874.1,1181.6 867.4,1191.1" fill="#7a08f8"/>
<line x1="913.5" y1="1210.2" x2="913.5" y2="1227.4" stroke="#555" stroke-width="1.1"/>
<line x1="910.0" y1="1210.2" x2="917.0" y2="1210.2" stroke="#555" stroke-width="1.1"/>
<line x1="910.0" y1="1227.4" x2="917.0" y2="1227.4" stroke="#555" stroke-width="1.1"/>
<polygon points="906.7,1214.1 920.2,1214.1 913.5,1223.6" fill="#7a08f8"/>
<line x1="1351.5" y1="1192.1" x2="1351.5" y2="1204.6" stroke="#555" stroke-width="1.1"/>
<line x1="1348.0" y1="1192.1" x2="1355.0" y2="1192.1" stroke="#555" stroke-width="1.1"/>
<line x1="1348.0" y1="1204.6" x2="1355.0" y2="1204.6" stroke="#555" stroke-width="1.1"/>
<polygon points="1344.8,1193.6 1358.3,1193.6 1351.5,1203.1" fill="#7a08f8"/>
</g>
<clipPath id="fclipO"><rect x="797.6" y="1440" width="20" height="15.6"/></clipPath>
<g clip-path="url(#fclipO)">
<polygon points="791.5,1450.7 805.0,1450.7 798.2,1460.2" fill="#7a08f8"/>
</g>
<line x1="797.6" y1="1065.9" x2="797.6" y2="1257.0" stroke="#2c2c2c" stroke-width="1.8"/>
<line x1="797.6" y1="1264.0" x2="797.6" y2="1455.6" stroke="#2c2c2c" stroke-width="1.8"/>
<line x1="1374.6" y1="1065.9" x2="1374.6" y2="1257.0" stroke="#2c2c2c" stroke-width="1.8"/>
<line x1="1374.6" y1="1264.0" x2="1374.6" y2="1455.6" stroke="#2c2c2c" stroke-width="1.8"/>
<line x1="797.6" y1="1455.6" x2="1374.6" y2="1455.6" stroke="#2c2c2c" stroke-width="1.8"/>
<line x1="797.6" y1="1065.9" x2="1374.6" y2="1065.9" stroke="#2c2c2c" stroke-width="1.7"/>
<line x1="788.3" y1="1261.3" x2="806.3" y2="1254.1" stroke="#2c2c2c" stroke-width="1.6"/>
<line x1="1365.6" y1="1261.3" x2="1383.6" y2="1254.1" stroke="#2c2c2c" stroke-width="1.6"/>
<line x1="788.3" y1="1267.8" x2="806.3" y2="1260.6" stroke="#2c2c2c" stroke-width="1.6"/>
<line x1="1365.6" y1="1267.8" x2="1383.6" y2="1260.6" stroke="#2c2c2c" stroke-width="1.6"/>
<line x1="788.1" y1="1455.4" x2="797.6" y2="1455.4" stroke="#2c2c2c" stroke-width="1.7"/>
<text transform="translate(771.53,1460.11) scale(1.2000,1)" font-size="16.30" font-weight="bold" font-family="Liberation Sans, sans-serif" fill="#111">0</text>
<line x1="788.1" y1="1412.9" x2="797.6" y2="1412.9" stroke="#2c2c2c" stroke-width="1.7"/>
<text transform="translate(760.65,1417.58) scale(1.2000,1)" font-size="16.30" font-weight="bold" font-family="Liberation Sans, sans-serif" fill="#111">10</text>
<line x1="788.1" y1="1370.3" x2="797.6" y2="1370.3" stroke="#2c2c2c" stroke-width="1.7"/>
<text transform="translate(760.65,1375.06) scale(1.2000,1)" font-size="16.30" font-weight="bold" font-family="Liberation Sans, sans-serif" fill="#111">20</text>
<line x1="788.1" y1="1327.8" x2="797.6" y2="1327.8" stroke="#2c2c2c" stroke-width="1.7"/>
<text transform="translate(760.65,1332.52) scale(1.2000,1)" font-size="16.30" font-weight="bold" font-family="Liberation Sans, sans-serif" fill="#111">30</text>
<line x1="788.1" y1="1285.3" x2="797.6" y2="1285.3" stroke="#2c2c2c" stroke-width="1.7"/>
<text transform="translate(760.65,1290.01) scale(1.2000,1)" font-size="16.30" font-weight="bold" font-family="Liberation Sans, sans-serif" fill="#111">40</text>
<line x1="792.2" y1="1434.1" x2="797.6" y2="1434.1" stroke="#2c2c2c" stroke-width="1.5"/>
<line x1="792.2" y1="1391.6" x2="797.6" y2="1391.6" stroke="#2c2c2c" stroke-width="1.5"/>
<line x1="792.2" y1="1349.1" x2="797.6" y2="1349.1" stroke="#2c2c2c" stroke-width="1.5"/>
<line x1="792.2" y1="1306.6" x2="797.6" y2="1306.6" stroke="#2c2c2c" stroke-width="1.5"/>
<line x1="788.1" y1="1245.3" x2="797.6" y2="1245.3" stroke="#2c2c2c" stroke-width="1.7"/>
<text transform="translate(760.65,1250.01) scale(1.2000,1)" font-size="16.30" font-weight="bold" font-family="Liberation Sans, sans-serif" fill="#111">70</text>
<line x1="788.1" y1="1124.9" x2="797.6" y2="1124.9" stroke="#2c2c2c" stroke-width="1.7"/>
<text transform="translate(760.65,1129.61) scale(1.2000,1)" font-size="16.30" font-weight="bold" font-family="Liberation Sans, sans-serif" fill="#111">80</text>
<line x1="792.2" y1="1185.1" x2="797.6" y2="1185.1" stroke="#2c2c2c" stroke-width="1.5"/>
<line x1="798.2" y1="1455.6" x2="798.2" y2="1462.6" stroke="#2c2c2c" stroke-width="1.7"/>
<text transform="translate(792.84,1480.44) scale(1.2000,1)" font-size="16.10" font-weight="bold" font-family="Liberation Sans, sans-serif" fill="#111">0</text>
<line x1="913.5" y1="1455.6" x2="913.5" y2="1462.6" stroke="#2c2c2c" stroke-width="1.7"/>
<text transform="translate(908.08,1480.36) scale(1.2000,1)" font-size="16.10" font-weight="bold" font-family="Liberation Sans, sans-serif" fill="#111">5</text>
<line x1="1028.8" y1="1455.6" x2="1028.8" y2="1462.6" stroke="#2c2c2c" stroke-width="1.7"/>
<text transform="translate(1017.81,1480.44) scale(1.2000,1)" font-size="16.10" font-weight="bold" font-family="Liberation Sans, sans-serif" fill="#111">10</text>
<line x1="1144.0" y1="1455.6" x2="1144.0" y2="1462.6" stroke="#2c2c2c" stroke-width="1.7"/>
<text transform="translate(1132.96,1480.36) scale(1.2000,1)" font-size="16.10" font-weight="bold" font-family="Liberation Sans, sans-serif" fill="#111">15</text>
<line x1="1259.3" y1="1455.6" x2="1259.3" y2="1462.6" stroke="#2c2c2c" stroke-width="1.7"/>
<text transform="translate(1248.64,1480.44) scale(1.2000,1)" font-size="16.10" font-weight="bold" font-family="Liberation Sans, sans-serif" fill="#111">20</text>
<line x1="1374.6" y1="1455.6" x2="1374.6" y2="1462.6" stroke="#2c2c2c" stroke-width="1.7"/>
<text transform="translate(1363.79,1480.44) scale(1.2000,1)" font-size="16.10" font-weight="bold" font-family="Liberation Sans, sans-serif" fill="#111">25</text>
<line x1="855.8" y1="1455.6" x2="855.8" y2="1459.6" stroke="#2c2c2c" stroke-width="1.5"/>
<line x1="971.1" y1="1455.6" x2="971.1" y2="1459.6" stroke="#2c2c2c" stroke-width="1.5"/>
<line x1="1086.4" y1="1455.6" x2="1086.4" y2="1459.6" stroke="#2c2c2c" stroke-width="1.5"/>
<line x1="1201.7" y1="1455.6" x2="1201.7" y2="1459.6" stroke="#2c2c2c" stroke-width="1.5"/>
<line x1="1317.0" y1="1455.6" x2="1317.0" y2="1459.6" stroke="#2c2c2c" stroke-width="1.5"/>
<text transform="translate(739.50,1387.61) rotate(-90) scale(1.0206,1.1471)" font-size="17.00" font-weight="bold" font-family="Liberation Sans, sans-serif" fill="#111">Calcium concentration (µg/ml)</text>
<text transform="translate(1017.48,1509.20) scale(1.2034,1.0000)" font-size="16.57" font-weight="bold" font-family="Liberation Sans, sans-serif" fill="#111">Time (Hours)</text>
<text transform="translate(1038.47,1562.00) scale(1.1196,1)" font-size="25.00" font-family="Liberation Serif, serif" fill="#000">(<tspan stroke="#000" stroke-width="0.55">f</tspan>)</text>
<line x1="1073.0" y1="1079.0" x2="1081.0" y2="1079.0" stroke="#111" stroke-width="2.0"/>
<line x1="1108.0" y1="1079.0" x2="1115.5" y2="1079.0" stroke="#111" stroke-width="2.0"/>
<rect x="1091.2" y="1074.8" width="11.5" height="8.5" fill="#000000"/>
<text transform="translate(1126.31,1085.00) scale(1.1729,1.0000)" font-size="16.86" font-weight="bold" font-family="Liberation Sans, sans-serif" fill="#111">0.2% Tween PBS 7.4</text>
<line x1="1073.0" y1="1101.0" x2="1081.0" y2="1101.0" stroke="#d838d8" stroke-width="2.0"/>
<line x1="1108.0" y1="1101.0" x2="1115.5" y2="1101.0" stroke="#d838d8" stroke-width="2.0"/>
<rect x="1091.2" y="1096.8" width="11.5" height="8.5" fill="#f818f0"/>
<text transform="translate(1126.31,1106.80) scale(1.1758,1.0000)" font-size="16.86" font-weight="bold" font-family="Liberation Sans, sans-serif" fill="#111">0.2% Tween PBS 6.5</text>
<line x1="1073.0" y1="1122.5" x2="1081.0" y2="1122.5" stroke="#6424c4" stroke-width="2.0"/>
<line x1="1108.0" y1="1122.5" x2="1115.5" y2="1122.5" stroke="#6424c4" stroke-width="2.0"/>
<rect x="1091.2" y="1118.2" width="11.5" height="8.5" fill="#7a08f8"/>
<text transform="translate(1126.31,1128.30) scale(1.1767,1.0000)" font-size="16.86" font-weight="bold" font-family="Liberation Sans, sans-serif" fill="#111">0.2% Tween PBS 5.6</text>
<line x1="1073.0" y1="1144.5" x2="1121.0" y2="1144.5" stroke="#111" stroke-width="2.0"/>
<polygon points="1092.0,1142.7 1103.0,1142.7 1097.5,1150.7" fill="#000000"/>
<text transform="translate(1126.53,1149.90) scale(1.1661,1.0000)" font-size="16.86" font-weight="bold" font-family="Liberation Sans, sans-serif" fill="#111">Simulated plasma 7.4</text>
<line x1="1073.0" y1="1166.1" x2="1121.0" y2="1166.1" stroke="#d838d8" stroke-width="2.0"/>
<polygon points="1092.0,1164.3 1103.0,1164.3 1097.5,1172.3" fill="#f818f0"/>
<text transform="translate(1126.53,1171.60) scale(1.1687,1.0000)" font-size="16.86" font-weight="bold" font-family="Liberation Sans, sans-serif" fill="#111">Simulated plasma 6.5</text>
<line x1="1073.0" y1="1188.2" x2="1121.0" y2="1188.2" stroke="#6424c4" stroke-width="2.0"/>
<polygon points="1092.0,1186.4 1103.0,1186.4 1097.5,1194.4" fill="#7a08f8"/>
<text transform="translate(1126.53,1193.60) scale(1.1697,1.0000)" font-size="16.86" font-weight="bold" font-family="Liberation Sans, sans-serif" fill="#111">Simulated plasma 5.6</text>
</svg>
</body></html>
